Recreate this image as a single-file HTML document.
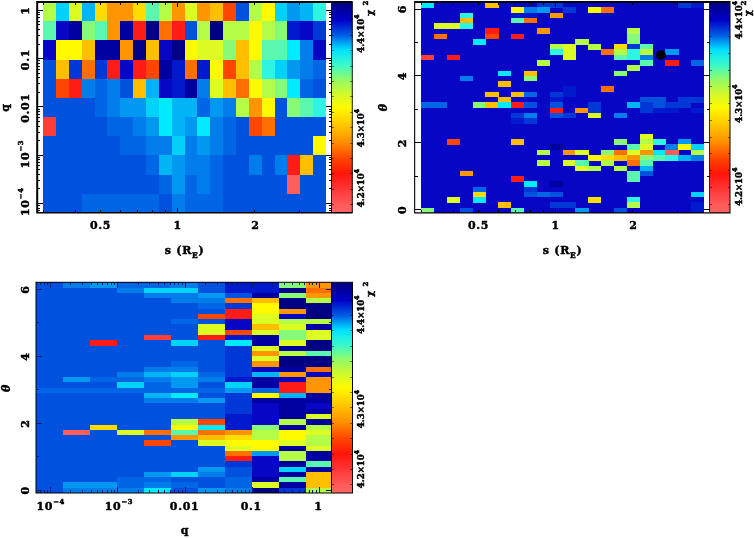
<!DOCTYPE html>
<html><head><meta charset="utf-8"><title>chi2 maps</title>
<style>html,body{margin:0;padding:0;background:#fff}svg{display:block}
text{font-family:"DejaVu Serif","Liberation Serif",serif;font-weight:bold;fill:#000;letter-spacing:0.7px;stroke:#000;stroke-width:0.45px}line{shape-rendering:crispEdges}</style></head>
<body><svg width="754" height="538" viewBox="0 0 754 538">
<defs><linearGradient id="cb" x1="0" y1="0" x2="0" y2="1"><stop offset="0.000" stop-color="#000080"/><stop offset="0.085" stop-color="#0000c8"/><stop offset="0.156" stop-color="#005ae4"/><stop offset="0.227" stop-color="#00e1ff"/><stop offset="0.300" stop-color="#3cfac8"/><stop offset="0.370" stop-color="#96fa64"/><stop offset="0.443" stop-color="#d7fa28"/><stop offset="0.500" stop-color="#fffa00"/><stop offset="0.595" stop-color="#ffbe00"/><stop offset="0.668" stop-color="#ff8c00"/><stop offset="0.741" stop-color="#ff4600"/><stop offset="0.815" stop-color="#ff140a"/><stop offset="0.888" stop-color="#ff3737"/><stop offset="0.960" stop-color="#ff5a5a"/><stop offset="1.000" stop-color="#ff6464"/></linearGradient><clipPath id="c3"><rect x="36" y="282" width="295.5" height="211"/></clipPath></defs>
<rect x="0" y="0" width="754" height="538" fill="#fff"/>
<rect x="36.00" y="1.00" width="317.00" height="212.50" fill="#fff"/>
<g shape-rendering="crispEdges">
<rect x="43.20" y="2.00" width="13.15" height="19.48" fill="#b4fc46"/>
<rect x="56.05" y="2.00" width="13.15" height="19.48" fill="#00d2fc"/>
<rect x="68.90" y="2.00" width="13.15" height="19.48" fill="#dcfc23"/>
<rect x="81.75" y="2.00" width="13.15" height="19.48" fill="#00b4f6"/>
<rect x="94.60" y="2.00" width="13.15" height="19.48" fill="#ffdc00"/>
<rect x="107.45" y="2.00" width="26.00" height="19.48" fill="#ff9600"/>
<rect x="133.15" y="2.00" width="13.15" height="19.48" fill="#ffdc00"/>
<rect x="146.00" y="2.00" width="13.15" height="19.48" fill="#5af8af"/>
<rect x="158.85" y="2.00" width="13.15" height="19.48" fill="#b4fc46"/>
<rect x="171.70" y="2.00" width="13.15" height="19.48" fill="#ff9600"/>
<rect x="184.55" y="2.00" width="13.15" height="19.48" fill="#dcfc23"/>
<rect x="197.40" y="2.00" width="13.15" height="19.48" fill="#ff9600"/>
<rect x="210.25" y="2.00" width="13.15" height="19.48" fill="#ffbe00"/>
<rect x="223.10" y="2.00" width="13.15" height="19.48" fill="#ff4600"/>
<rect x="235.95" y="2.00" width="13.15" height="19.48" fill="#0052de"/>
<rect x="248.80" y="2.00" width="13.15" height="19.48" fill="#b4fc46"/>
<rect x="261.65" y="2.00" width="13.15" height="19.48" fill="#fffa00"/>
<rect x="274.50" y="2.00" width="13.15" height="19.48" fill="#00d2fc"/>
<rect x="287.35" y="2.00" width="13.15" height="19.48" fill="#0098f0"/>
<rect x="300.20" y="2.00" width="13.15" height="19.48" fill="#00b4f6"/>
<rect x="313.05" y="2.00" width="13.15" height="19.48" fill="#2df5e1"/>
<rect x="43.20" y="21.18" width="13.15" height="19.48" fill="#5af8af"/>
<rect x="56.05" y="21.18" width="13.15" height="19.48" fill="#0606c4"/>
<rect x="68.90" y="21.18" width="13.15" height="19.48" fill="#0000a0"/>
<rect x="81.75" y="21.18" width="13.15" height="19.48" fill="#87fa78"/>
<rect x="94.60" y="21.18" width="13.15" height="19.48" fill="#5af8af"/>
<rect x="107.45" y="21.18" width="13.15" height="19.48" fill="#ff9600"/>
<rect x="120.30" y="21.18" width="13.15" height="19.48" fill="#0000a0"/>
<rect x="133.15" y="21.18" width="13.15" height="19.48" fill="#ff1c16"/>
<rect x="146.00" y="21.18" width="13.15" height="19.48" fill="#000082"/>
<rect x="158.85" y="21.18" width="13.15" height="19.48" fill="#ff7000"/>
<rect x="171.70" y="21.18" width="13.15" height="19.48" fill="#ff1c16"/>
<rect x="184.55" y="21.18" width="13.15" height="19.48" fill="#0052de"/>
<rect x="197.40" y="21.18" width="13.15" height="19.48" fill="#b4fc46"/>
<rect x="210.25" y="21.18" width="13.15" height="19.48" fill="#000082"/>
<rect x="223.10" y="21.18" width="26.00" height="19.48" fill="#b4fc46"/>
<rect x="248.80" y="21.18" width="13.15" height="19.48" fill="#fffa00"/>
<rect x="261.65" y="21.18" width="13.15" height="19.48" fill="#b4fc46"/>
<rect x="274.50" y="21.18" width="13.15" height="19.48" fill="#87fa78"/>
<rect x="287.35" y="21.18" width="13.15" height="19.48" fill="#0019cd"/>
<rect x="300.20" y="21.18" width="13.15" height="19.48" fill="#0606c4"/>
<rect x="313.05" y="21.18" width="13.15" height="19.48" fill="#0037d7"/>
<rect x="43.20" y="40.36" width="13.15" height="19.48" fill="#0606c4"/>
<rect x="56.05" y="40.36" width="26.00" height="19.48" fill="#fffa00"/>
<rect x="81.75" y="40.36" width="13.15" height="19.48" fill="#ffbe00"/>
<rect x="94.60" y="40.36" width="26.00" height="19.48" fill="#0000a0"/>
<rect x="120.30" y="40.36" width="13.15" height="19.48" fill="#ff9600"/>
<rect x="133.15" y="40.36" width="13.15" height="19.48" fill="#000082"/>
<rect x="146.00" y="40.36" width="13.15" height="19.48" fill="#ffbe00"/>
<rect x="158.85" y="40.36" width="13.15" height="19.48" fill="#0606c4"/>
<rect x="171.70" y="40.36" width="13.15" height="19.48" fill="#000082"/>
<rect x="184.55" y="40.36" width="13.15" height="19.48" fill="#fffa00"/>
<rect x="197.40" y="40.36" width="26.00" height="19.48" fill="#dcfc23"/>
<rect x="223.10" y="40.36" width="13.15" height="19.48" fill="#87fa78"/>
<rect x="235.95" y="40.36" width="13.15" height="19.48" fill="#ffbe00"/>
<rect x="248.80" y="40.36" width="13.15" height="19.48" fill="#fffa00"/>
<rect x="261.65" y="40.36" width="26.00" height="19.48" fill="#5af8af"/>
<rect x="287.35" y="40.36" width="13.15" height="19.48" fill="#00ebff"/>
<rect x="300.20" y="40.36" width="13.15" height="19.48" fill="#007deb"/>
<rect x="313.05" y="40.36" width="13.15" height="19.48" fill="#0606c4"/>
<rect x="43.20" y="59.55" width="13.15" height="19.48" fill="#0052de"/>
<rect x="56.05" y="59.55" width="13.15" height="19.48" fill="#ffbe00"/>
<rect x="68.90" y="59.55" width="13.15" height="19.48" fill="#0037d7"/>
<rect x="81.75" y="59.55" width="13.15" height="19.48" fill="#ff7000"/>
<rect x="94.60" y="59.55" width="13.15" height="19.48" fill="#0037d7"/>
<rect x="107.45" y="59.55" width="13.15" height="19.48" fill="#ff1c16"/>
<rect x="120.30" y="59.55" width="13.15" height="19.48" fill="#0606c4"/>
<rect x="133.15" y="59.55" width="13.15" height="19.48" fill="#ff1c16"/>
<rect x="146.00" y="59.55" width="13.15" height="19.48" fill="#ff4600"/>
<rect x="158.85" y="59.55" width="13.15" height="19.48" fill="#0000a0"/>
<rect x="171.70" y="59.55" width="13.15" height="19.48" fill="#0019cd"/>
<rect x="184.55" y="59.55" width="13.15" height="19.48" fill="#ff7000"/>
<rect x="197.40" y="59.55" width="13.15" height="19.48" fill="#0019cd"/>
<rect x="210.25" y="59.55" width="13.15" height="19.48" fill="#fffa00"/>
<rect x="223.10" y="59.55" width="13.15" height="19.48" fill="#ff4600"/>
<rect x="235.95" y="59.55" width="13.15" height="19.48" fill="#ffbe00"/>
<rect x="248.80" y="59.55" width="13.15" height="19.48" fill="#b4fc46"/>
<rect x="261.65" y="59.55" width="13.15" height="19.48" fill="#2df5e1"/>
<rect x="274.50" y="59.55" width="13.15" height="19.48" fill="#00d2fc"/>
<rect x="287.35" y="59.55" width="13.15" height="19.48" fill="#0098f0"/>
<rect x="300.20" y="59.55" width="13.15" height="19.48" fill="#007deb"/>
<rect x="313.05" y="59.55" width="13.15" height="19.48" fill="#0066e6"/>
<rect x="43.20" y="78.73" width="13.15" height="19.48" fill="#0052de"/>
<rect x="56.05" y="78.73" width="13.15" height="19.48" fill="#ff4600"/>
<rect x="68.90" y="78.73" width="13.15" height="19.48" fill="#ff1c16"/>
<rect x="81.75" y="78.73" width="13.15" height="19.48" fill="#007deb"/>
<rect x="94.60" y="78.73" width="13.15" height="19.48" fill="#0066e6"/>
<rect x="107.45" y="78.73" width="13.15" height="19.48" fill="#007deb"/>
<rect x="120.30" y="78.73" width="13.15" height="19.48" fill="#0052de"/>
<rect x="133.15" y="78.73" width="13.15" height="19.48" fill="#ffbe00"/>
<rect x="146.00" y="78.73" width="13.15" height="19.48" fill="#00b4f6"/>
<rect x="158.85" y="78.73" width="13.15" height="19.48" fill="#0606c4"/>
<rect x="171.70" y="78.73" width="13.15" height="19.48" fill="#0019cd"/>
<rect x="184.55" y="78.73" width="13.15" height="19.48" fill="#0000a0"/>
<rect x="197.40" y="78.73" width="13.15" height="19.48" fill="#007deb"/>
<rect x="210.25" y="78.73" width="13.15" height="19.48" fill="#dcfc23"/>
<rect x="223.10" y="78.73" width="13.15" height="19.48" fill="#ffbe00"/>
<rect x="235.95" y="78.73" width="13.15" height="19.48" fill="#ff7000"/>
<rect x="248.80" y="78.73" width="13.15" height="19.48" fill="#fffa00"/>
<rect x="261.65" y="78.73" width="13.15" height="19.48" fill="#b4fc46"/>
<rect x="274.50" y="78.73" width="13.15" height="19.48" fill="#87fa78"/>
<rect x="287.35" y="78.73" width="13.15" height="19.48" fill="#00ebff"/>
<rect x="300.20" y="78.73" width="13.15" height="19.48" fill="#0066e6"/>
<rect x="313.05" y="78.73" width="13.15" height="19.48" fill="#0052de"/>
<rect x="43.20" y="97.91" width="51.70" height="19.48" fill="#0052de"/>
<rect x="94.60" y="97.91" width="13.15" height="19.48" fill="#0066e6"/>
<rect x="107.45" y="97.91" width="13.15" height="19.48" fill="#007deb"/>
<rect x="120.30" y="97.91" width="26.00" height="19.48" fill="#0098f0"/>
<rect x="146.00" y="97.91" width="13.15" height="19.48" fill="#00d2fc"/>
<rect x="158.85" y="97.91" width="13.15" height="19.48" fill="#00ebff"/>
<rect x="171.70" y="97.91" width="26.00" height="19.48" fill="#00b4f6"/>
<rect x="197.40" y="97.91" width="13.15" height="19.48" fill="#0066e6"/>
<rect x="210.25" y="97.91" width="13.15" height="19.48" fill="#0098f0"/>
<rect x="223.10" y="97.91" width="13.15" height="19.48" fill="#007deb"/>
<rect x="235.95" y="97.91" width="13.15" height="19.48" fill="#b4fc46"/>
<rect x="248.80" y="97.91" width="13.15" height="19.48" fill="#ff9600"/>
<rect x="261.65" y="97.91" width="13.15" height="19.48" fill="#fffa00"/>
<rect x="274.50" y="97.91" width="13.15" height="19.48" fill="#0052de"/>
<rect x="287.35" y="97.91" width="13.15" height="19.48" fill="#87fa78"/>
<rect x="300.20" y="97.91" width="13.15" height="19.48" fill="#5af8af"/>
<rect x="313.05" y="97.91" width="13.15" height="19.48" fill="#2df5e1"/>
<rect x="43.20" y="117.09" width="13.15" height="19.48" fill="#ff3e3a"/>
<rect x="56.05" y="117.09" width="51.70" height="19.48" fill="#0052de"/>
<rect x="107.45" y="117.09" width="26.00" height="19.48" fill="#0066e6"/>
<rect x="133.15" y="117.09" width="13.15" height="19.48" fill="#007deb"/>
<rect x="146.00" y="117.09" width="13.15" height="19.48" fill="#0098f0"/>
<rect x="158.85" y="117.09" width="13.15" height="19.48" fill="#00ebff"/>
<rect x="171.70" y="117.09" width="13.15" height="19.48" fill="#00b4f6"/>
<rect x="184.55" y="117.09" width="13.15" height="19.48" fill="#0098f0"/>
<rect x="197.40" y="117.09" width="13.15" height="19.48" fill="#00ebff"/>
<rect x="210.25" y="117.09" width="13.15" height="19.48" fill="#007deb"/>
<rect x="223.10" y="117.09" width="13.15" height="19.48" fill="#0066e6"/>
<rect x="235.95" y="117.09" width="13.15" height="19.48" fill="#0052de"/>
<rect x="248.80" y="117.09" width="13.15" height="19.48" fill="#ff4600"/>
<rect x="261.65" y="117.09" width="13.15" height="19.48" fill="#ff7000"/>
<rect x="274.50" y="117.09" width="51.70" height="19.48" fill="#0052de"/>
<rect x="43.20" y="136.27" width="77.40" height="19.48" fill="#0052de"/>
<rect x="120.30" y="136.27" width="26.00" height="19.48" fill="#0066e6"/>
<rect x="146.00" y="136.27" width="26.00" height="19.48" fill="#007deb"/>
<rect x="171.70" y="136.27" width="13.15" height="19.48" fill="#00d2fc"/>
<rect x="184.55" y="136.27" width="13.15" height="19.48" fill="#007deb"/>
<rect x="197.40" y="136.27" width="13.15" height="19.48" fill="#0098f0"/>
<rect x="210.25" y="136.27" width="13.15" height="19.48" fill="#007deb"/>
<rect x="223.10" y="136.27" width="13.15" height="19.48" fill="#0066e6"/>
<rect x="235.95" y="136.27" width="77.40" height="19.48" fill="#0052de"/>
<rect x="313.05" y="136.27" width="13.15" height="19.48" fill="#fffa00"/>
<rect x="43.20" y="155.45" width="103.10" height="19.48" fill="#0052de"/>
<rect x="146.00" y="155.45" width="13.15" height="19.48" fill="#0066e6"/>
<rect x="158.85" y="155.45" width="13.15" height="19.48" fill="#00b4f6"/>
<rect x="171.70" y="155.45" width="13.15" height="19.48" fill="#0098f0"/>
<rect x="184.55" y="155.45" width="26.00" height="19.48" fill="#007deb"/>
<rect x="210.25" y="155.45" width="13.15" height="19.48" fill="#0066e6"/>
<rect x="223.10" y="155.45" width="26.00" height="19.48" fill="#0052de"/>
<rect x="248.80" y="155.45" width="13.15" height="19.48" fill="#007deb"/>
<rect x="261.65" y="155.45" width="13.15" height="19.48" fill="#0052de"/>
<rect x="274.50" y="155.45" width="13.15" height="19.48" fill="#007deb"/>
<rect x="287.35" y="155.45" width="13.15" height="19.48" fill="#ff1c16"/>
<rect x="300.20" y="155.45" width="13.15" height="19.48" fill="#ffbe00"/>
<rect x="313.05" y="155.45" width="13.15" height="19.48" fill="#0052de"/>
<rect x="43.20" y="174.64" width="115.95" height="19.48" fill="#0052de"/>
<rect x="158.85" y="174.64" width="13.15" height="19.48" fill="#0066e6"/>
<rect x="171.70" y="174.64" width="13.15" height="19.48" fill="#0098f0"/>
<rect x="184.55" y="174.64" width="13.15" height="19.48" fill="#0066e6"/>
<rect x="197.40" y="174.64" width="13.15" height="19.48" fill="#007deb"/>
<rect x="210.25" y="174.64" width="13.15" height="19.48" fill="#0066e6"/>
<rect x="223.10" y="174.64" width="64.55" height="19.48" fill="#0052de"/>
<rect x="287.35" y="174.64" width="13.15" height="19.48" fill="#ff5c5c"/>
<rect x="300.20" y="174.64" width="26.00" height="19.48" fill="#0052de"/>
<rect x="43.20" y="193.82" width="38.85" height="19.48" fill="#0052de"/>
<rect x="81.75" y="193.82" width="77.40" height="19.48" fill="#0066e6"/>
<rect x="158.85" y="193.82" width="13.15" height="19.48" fill="#0052de"/>
<rect x="171.70" y="193.82" width="13.15" height="19.48" fill="#007deb"/>
<rect x="184.55" y="193.82" width="38.85" height="19.48" fill="#0066e6"/>
<rect x="223.10" y="193.82" width="103.10" height="19.48" fill="#0052de"/>
</g>
<rect x="332.00" y="2.00" width="20.50" height="211.00" fill="url(#cb)"/>
<line x1="332.00" y1="19.80" x2="334.20" y2="19.80" stroke="rgba(0,0,0,0.5)" stroke-width="1.00"/>
<line x1="350.30" y1="19.80" x2="352.50" y2="19.80" stroke="rgba(0,0,0,0.5)" stroke-width="1.00"/>
<line x1="332.00" y1="35.20" x2="334.20" y2="35.20" stroke="rgba(0,0,0,0.5)" stroke-width="1.00"/>
<line x1="350.30" y1="35.20" x2="352.50" y2="35.20" stroke="rgba(0,0,0,0.5)" stroke-width="1.00"/>
<line x1="332.00" y1="50.60" x2="334.20" y2="50.60" stroke="rgba(0,0,0,0.5)" stroke-width="1.00"/>
<line x1="350.30" y1="50.60" x2="352.50" y2="50.60" stroke="rgba(0,0,0,0.5)" stroke-width="1.00"/>
<line x1="332.00" y1="66.00" x2="334.20" y2="66.00" stroke="rgba(0,0,0,0.5)" stroke-width="1.00"/>
<line x1="350.30" y1="66.00" x2="352.50" y2="66.00" stroke="rgba(0,0,0,0.5)" stroke-width="1.00"/>
<line x1="332.00" y1="81.40" x2="334.20" y2="81.40" stroke="rgba(0,0,0,0.5)" stroke-width="1.00"/>
<line x1="350.30" y1="81.40" x2="352.50" y2="81.40" stroke="rgba(0,0,0,0.5)" stroke-width="1.00"/>
<line x1="332.00" y1="96.80" x2="334.20" y2="96.80" stroke="rgba(0,0,0,0.5)" stroke-width="1.00"/>
<line x1="350.30" y1="96.80" x2="352.50" y2="96.80" stroke="rgba(0,0,0,0.5)" stroke-width="1.00"/>
<line x1="332.00" y1="112.20" x2="334.20" y2="112.20" stroke="rgba(0,0,0,0.5)" stroke-width="1.00"/>
<line x1="350.30" y1="112.20" x2="352.50" y2="112.20" stroke="rgba(0,0,0,0.5)" stroke-width="1.00"/>
<line x1="332.00" y1="127.60" x2="334.20" y2="127.60" stroke="rgba(0,0,0,0.5)" stroke-width="1.00"/>
<line x1="350.30" y1="127.60" x2="352.50" y2="127.60" stroke="rgba(0,0,0,0.5)" stroke-width="1.00"/>
<line x1="332.00" y1="143.00" x2="334.20" y2="143.00" stroke="rgba(0,0,0,0.5)" stroke-width="1.00"/>
<line x1="350.30" y1="143.00" x2="352.50" y2="143.00" stroke="rgba(0,0,0,0.5)" stroke-width="1.00"/>
<line x1="332.00" y1="158.40" x2="334.20" y2="158.40" stroke="rgba(0,0,0,0.5)" stroke-width="1.00"/>
<line x1="350.30" y1="158.40" x2="352.50" y2="158.40" stroke="rgba(0,0,0,0.5)" stroke-width="1.00"/>
<line x1="332.00" y1="173.80" x2="334.20" y2="173.80" stroke="rgba(0,0,0,0.5)" stroke-width="1.00"/>
<line x1="350.30" y1="173.80" x2="352.50" y2="173.80" stroke="rgba(0,0,0,0.5)" stroke-width="1.00"/>
<line x1="332.00" y1="189.20" x2="334.20" y2="189.20" stroke="rgba(0,0,0,0.5)" stroke-width="1.00"/>
<line x1="350.30" y1="189.20" x2="352.50" y2="189.20" stroke="rgba(0,0,0,0.5)" stroke-width="1.00"/>
<line x1="332.00" y1="204.60" x2="334.20" y2="204.60" stroke="rgba(0,0,0,0.5)" stroke-width="1.00"/>
<line x1="350.30" y1="204.60" x2="352.50" y2="204.60" stroke="rgba(0,0,0,0.5)" stroke-width="1.00"/>
<line x1="37.50" y1="210.98" x2="39.80" y2="210.98" stroke="#000" stroke-width="1.00"/>
<line x1="37.50" y1="208.18" x2="39.80" y2="208.18" stroke="#000" stroke-width="1.00"/>
<line x1="37.50" y1="205.71" x2="39.80" y2="205.71" stroke="#000" stroke-width="1.00"/>
<line x1="37.50" y1="203.50" x2="43.00" y2="203.50" stroke="#000" stroke-width="1.00"/>
<line x1="37.50" y1="188.96" x2="39.80" y2="188.96" stroke="#000" stroke-width="1.00"/>
<line x1="37.50" y1="180.46" x2="39.80" y2="180.46" stroke="#000" stroke-width="1.00"/>
<line x1="37.50" y1="174.42" x2="39.80" y2="174.42" stroke="#000" stroke-width="1.00"/>
<line x1="37.50" y1="169.74" x2="39.80" y2="169.74" stroke="#000" stroke-width="1.00"/>
<line x1="37.50" y1="165.92" x2="39.80" y2="165.92" stroke="#000" stroke-width="1.00"/>
<line x1="37.50" y1="162.68" x2="39.80" y2="162.68" stroke="#000" stroke-width="1.00"/>
<line x1="37.50" y1="159.88" x2="39.80" y2="159.88" stroke="#000" stroke-width="1.00"/>
<line x1="37.50" y1="157.41" x2="39.80" y2="157.41" stroke="#000" stroke-width="1.00"/>
<line x1="37.50" y1="155.20" x2="43.00" y2="155.20" stroke="#000" stroke-width="1.00"/>
<line x1="37.50" y1="140.66" x2="39.80" y2="140.66" stroke="#000" stroke-width="1.00"/>
<line x1="37.50" y1="132.16" x2="39.80" y2="132.16" stroke="#000" stroke-width="1.00"/>
<line x1="37.50" y1="126.12" x2="39.80" y2="126.12" stroke="#000" stroke-width="1.00"/>
<line x1="37.50" y1="121.44" x2="39.80" y2="121.44" stroke="#000" stroke-width="1.00"/>
<line x1="37.50" y1="117.62" x2="39.80" y2="117.62" stroke="#000" stroke-width="1.00"/>
<line x1="37.50" y1="114.38" x2="39.80" y2="114.38" stroke="#000" stroke-width="1.00"/>
<line x1="37.50" y1="111.58" x2="39.80" y2="111.58" stroke="#000" stroke-width="1.00"/>
<line x1="37.50" y1="109.11" x2="39.80" y2="109.11" stroke="#000" stroke-width="1.00"/>
<line x1="37.50" y1="106.90" x2="43.00" y2="106.90" stroke="#000" stroke-width="1.00"/>
<line x1="37.50" y1="92.36" x2="39.80" y2="92.36" stroke="#000" stroke-width="1.00"/>
<line x1="37.50" y1="83.86" x2="39.80" y2="83.86" stroke="#000" stroke-width="1.00"/>
<line x1="37.50" y1="77.82" x2="39.80" y2="77.82" stroke="#000" stroke-width="1.00"/>
<line x1="37.50" y1="73.14" x2="39.80" y2="73.14" stroke="#000" stroke-width="1.00"/>
<line x1="37.50" y1="69.32" x2="39.80" y2="69.32" stroke="#000" stroke-width="1.00"/>
<line x1="37.50" y1="66.08" x2="39.80" y2="66.08" stroke="#000" stroke-width="1.00"/>
<line x1="37.50" y1="63.28" x2="39.80" y2="63.28" stroke="#000" stroke-width="1.00"/>
<line x1="37.50" y1="60.81" x2="39.80" y2="60.81" stroke="#000" stroke-width="1.00"/>
<line x1="37.50" y1="58.60" x2="43.00" y2="58.60" stroke="#000" stroke-width="1.00"/>
<line x1="37.50" y1="44.06" x2="39.80" y2="44.06" stroke="#000" stroke-width="1.00"/>
<line x1="37.50" y1="35.56" x2="39.80" y2="35.56" stroke="#000" stroke-width="1.00"/>
<line x1="37.50" y1="29.52" x2="39.80" y2="29.52" stroke="#000" stroke-width="1.00"/>
<line x1="37.50" y1="24.84" x2="39.80" y2="24.84" stroke="#000" stroke-width="1.00"/>
<line x1="37.50" y1="21.02" x2="39.80" y2="21.02" stroke="#000" stroke-width="1.00"/>
<line x1="37.50" y1="17.78" x2="39.80" y2="17.78" stroke="#000" stroke-width="1.00"/>
<line x1="37.50" y1="14.98" x2="39.80" y2="14.98" stroke="#000" stroke-width="1.00"/>
<line x1="37.50" y1="12.51" x2="39.80" y2="12.51" stroke="#000" stroke-width="1.00"/>
<line x1="37.50" y1="10.30" x2="43.00" y2="10.30" stroke="#000" stroke-width="1.00"/>
<line x1="329.30" y1="210.98" x2="331.60" y2="210.98" stroke="#000" stroke-width="1.00"/>
<line x1="329.30" y1="208.18" x2="331.60" y2="208.18" stroke="#000" stroke-width="1.00"/>
<line x1="329.30" y1="205.71" x2="331.60" y2="205.71" stroke="#000" stroke-width="1.00"/>
<line x1="326.10" y1="203.50" x2="331.60" y2="203.50" stroke="#000" stroke-width="1.00"/>
<line x1="329.30" y1="188.96" x2="331.60" y2="188.96" stroke="#000" stroke-width="1.00"/>
<line x1="329.30" y1="180.46" x2="331.60" y2="180.46" stroke="#000" stroke-width="1.00"/>
<line x1="329.30" y1="174.42" x2="331.60" y2="174.42" stroke="#000" stroke-width="1.00"/>
<line x1="329.30" y1="169.74" x2="331.60" y2="169.74" stroke="#000" stroke-width="1.00"/>
<line x1="329.30" y1="165.92" x2="331.60" y2="165.92" stroke="#000" stroke-width="1.00"/>
<line x1="329.30" y1="162.68" x2="331.60" y2="162.68" stroke="#000" stroke-width="1.00"/>
<line x1="329.30" y1="159.88" x2="331.60" y2="159.88" stroke="#000" stroke-width="1.00"/>
<line x1="329.30" y1="157.41" x2="331.60" y2="157.41" stroke="#000" stroke-width="1.00"/>
<line x1="326.10" y1="155.20" x2="331.60" y2="155.20" stroke="#000" stroke-width="1.00"/>
<line x1="329.30" y1="140.66" x2="331.60" y2="140.66" stroke="#000" stroke-width="1.00"/>
<line x1="329.30" y1="132.16" x2="331.60" y2="132.16" stroke="#000" stroke-width="1.00"/>
<line x1="329.30" y1="126.12" x2="331.60" y2="126.12" stroke="#000" stroke-width="1.00"/>
<line x1="329.30" y1="121.44" x2="331.60" y2="121.44" stroke="#000" stroke-width="1.00"/>
<line x1="329.30" y1="117.62" x2="331.60" y2="117.62" stroke="#000" stroke-width="1.00"/>
<line x1="329.30" y1="114.38" x2="331.60" y2="114.38" stroke="#000" stroke-width="1.00"/>
<line x1="329.30" y1="111.58" x2="331.60" y2="111.58" stroke="#000" stroke-width="1.00"/>
<line x1="329.30" y1="109.11" x2="331.60" y2="109.11" stroke="#000" stroke-width="1.00"/>
<line x1="326.10" y1="106.90" x2="331.60" y2="106.90" stroke="#000" stroke-width="1.00"/>
<line x1="329.30" y1="92.36" x2="331.60" y2="92.36" stroke="#000" stroke-width="1.00"/>
<line x1="329.30" y1="83.86" x2="331.60" y2="83.86" stroke="#000" stroke-width="1.00"/>
<line x1="329.30" y1="77.82" x2="331.60" y2="77.82" stroke="#000" stroke-width="1.00"/>
<line x1="329.30" y1="73.14" x2="331.60" y2="73.14" stroke="#000" stroke-width="1.00"/>
<line x1="329.30" y1="69.32" x2="331.60" y2="69.32" stroke="#000" stroke-width="1.00"/>
<line x1="329.30" y1="66.08" x2="331.60" y2="66.08" stroke="#000" stroke-width="1.00"/>
<line x1="329.30" y1="63.28" x2="331.60" y2="63.28" stroke="#000" stroke-width="1.00"/>
<line x1="329.30" y1="60.81" x2="331.60" y2="60.81" stroke="#000" stroke-width="1.00"/>
<line x1="326.10" y1="58.60" x2="331.60" y2="58.60" stroke="#000" stroke-width="1.00"/>
<line x1="329.30" y1="44.06" x2="331.60" y2="44.06" stroke="#000" stroke-width="1.00"/>
<line x1="329.30" y1="35.56" x2="331.60" y2="35.56" stroke="#000" stroke-width="1.00"/>
<line x1="329.30" y1="29.52" x2="331.60" y2="29.52" stroke="#000" stroke-width="1.00"/>
<line x1="329.30" y1="24.84" x2="331.60" y2="24.84" stroke="#000" stroke-width="1.00"/>
<line x1="329.30" y1="21.02" x2="331.60" y2="21.02" stroke="#000" stroke-width="1.00"/>
<line x1="329.30" y1="17.78" x2="331.60" y2="17.78" stroke="#000" stroke-width="1.00"/>
<line x1="329.30" y1="14.98" x2="331.60" y2="14.98" stroke="#000" stroke-width="1.00"/>
<line x1="329.30" y1="12.51" x2="331.60" y2="12.51" stroke="#000" stroke-width="1.00"/>
<line x1="326.10" y1="10.30" x2="331.60" y2="10.30" stroke="#000" stroke-width="1.00"/>
<line x1="43.38" y1="212.00" x2="43.38" y2="209.70" stroke="#000" stroke-width="1.00"/>
<line x1="43.38" y1="2.50" x2="43.38" y2="4.80" stroke="#000" stroke-width="1.00"/>
<line x1="75.38" y1="212.00" x2="75.38" y2="209.70" stroke="#000" stroke-width="1.00"/>
<line x1="75.38" y1="2.50" x2="75.38" y2="4.80" stroke="#000" stroke-width="1.00"/>
<line x1="100.20" y1="212.00" x2="100.20" y2="209.70" stroke="#000" stroke-width="1.00"/>
<line x1="100.20" y1="2.50" x2="100.20" y2="4.80" stroke="#000" stroke-width="1.00"/>
<line x1="120.48" y1="212.00" x2="120.48" y2="209.70" stroke="#000" stroke-width="1.00"/>
<line x1="120.48" y1="2.50" x2="120.48" y2="4.80" stroke="#000" stroke-width="1.00"/>
<line x1="137.63" y1="212.00" x2="137.63" y2="209.70" stroke="#000" stroke-width="1.00"/>
<line x1="137.63" y1="2.50" x2="137.63" y2="4.80" stroke="#000" stroke-width="1.00"/>
<line x1="152.48" y1="212.00" x2="152.48" y2="209.70" stroke="#000" stroke-width="1.00"/>
<line x1="152.48" y1="2.50" x2="152.48" y2="4.80" stroke="#000" stroke-width="1.00"/>
<line x1="165.58" y1="212.00" x2="165.58" y2="209.70" stroke="#000" stroke-width="1.00"/>
<line x1="165.58" y1="2.50" x2="165.58" y2="4.80" stroke="#000" stroke-width="1.00"/>
<line x1="177.30" y1="212.00" x2="177.30" y2="207.50" stroke="#000" stroke-width="1.00"/>
<line x1="177.30" y1="2.50" x2="177.30" y2="7.00" stroke="#000" stroke-width="1.00"/>
<line x1="254.40" y1="212.00" x2="254.40" y2="209.70" stroke="#000" stroke-width="1.00"/>
<line x1="254.40" y1="2.50" x2="254.40" y2="4.80" stroke="#000" stroke-width="1.00"/>
<line x1="299.50" y1="212.00" x2="299.50" y2="209.70" stroke="#000" stroke-width="1.00"/>
<line x1="299.50" y1="2.50" x2="299.50" y2="4.80" stroke="#000" stroke-width="1.00"/>
<path d="M36.2 1H352.7V213.6H36.2Z M38.2 3H351.8V212.1H38.2Z" fill="#000" fill-rule="evenodd"/>
<line x1="331.70" y1="2.00" x2="331.70" y2="212.00" stroke="#000" stroke-width="0.90"/>
<text x="100.50" y="228.50" font-size="11.00" text-anchor="middle">0.5</text>
<text x="177.60" y="228.50" font-size="11.00" text-anchor="middle">1</text>
<text x="255.50" y="228.50" font-size="11.00" text-anchor="middle">2</text>
<text x="184.60" y="253.50" font-size="11.00" text-anchor="middle">s (R<tspan dy="4" font-size="7.5">E</tspan><tspan dy="-4" font-size="11">)</tspan></text>
<text x="29.00" y="10.60" font-size="11.00" text-anchor="middle" transform="rotate(-90 29.00 10.60)">1</text>
<text x="29.00" y="59.50" font-size="11.00" text-anchor="middle" transform="rotate(-90 29.00 59.50)">0.1</text>
<text x="29.00" y="108.00" font-size="11.00" text-anchor="middle" transform="rotate(-90 29.00 108.00)">0.01</text>
<text x="29.00" y="154.00" font-size="11.00" text-anchor="middle" transform="rotate(-90 29.00 154.00)">10<tspan dy="-5.6" font-size="6.8">−3</tspan></text>
<text x="29.00" y="201.70" font-size="11.00" text-anchor="middle" transform="rotate(-90 29.00 201.70)">10<tspan dy="-5.6" font-size="6.8">−4</tspan></text>
<text x="8.50" y="107.50" font-size="11.00" text-anchor="middle" transform="rotate(-90 8.50 107.50)">q</text>
<text x="364.00" y="33.50" font-size="8.50" text-anchor="middle" transform="rotate(-90 364.00 33.50)" style="letter-spacing:0">4.4×10<tspan dy="-4.8" font-size="6.5">4</tspan></text>
<text x="364.00" y="128.00" font-size="8.50" text-anchor="middle" transform="rotate(-90 364.00 128.00)" style="letter-spacing:0">4.3×10<tspan dy="-4.8" font-size="6.5">4</tspan></text>
<text x="364.00" y="188.00" font-size="8.50" text-anchor="middle" transform="rotate(-90 364.00 188.00)" style="letter-spacing:0">4.2×10<tspan dy="-4.8" font-size="6.5">4</tspan></text>
<text x="373.10" y="15.80" font-size="9.00" text-anchor="start" transform="rotate(-90 373.10 15.80)">χ</text>
<text x="368.40" y="5.40" font-size="6.90" text-anchor="start" transform="rotate(-90 368.40 5.40)">2</text>
<rect x="414.00" y="1.00" width="317.00" height="212.50" fill="#fff"/>
<g shape-rendering="crispEdges">
<rect x="421.20" y="2.00" width="282.70" height="211.00" fill="#0606c4"/>
<rect x="421.20" y="2.00" width="13.15" height="5.58" fill="#00ebff"/>
<rect x="485.45" y="2.00" width="13.15" height="5.58" fill="#ffbe00"/>
<rect x="536.85" y="2.00" width="13.15" height="5.58" fill="#0037d7"/>
<rect x="549.70" y="2.00" width="13.15" height="5.58" fill="#0037d7"/>
<rect x="678.20" y="2.00" width="13.15" height="5.58" fill="#0037d7"/>
<rect x="691.05" y="2.00" width="13.15" height="5.58" fill="#0019cd"/>
<rect x="511.15" y="7.28" width="13.15" height="5.58" fill="#fffa00"/>
<rect x="524.00" y="7.28" width="13.15" height="5.58" fill="#007deb"/>
<rect x="536.85" y="7.28" width="13.15" height="5.58" fill="#0098f0"/>
<rect x="562.55" y="7.28" width="13.15" height="5.58" fill="#0037d7"/>
<rect x="588.25" y="7.28" width="13.15" height="5.58" fill="#fffa00"/>
<rect x="601.10" y="7.28" width="13.15" height="5.58" fill="#ff7000"/>
<rect x="459.75" y="12.55" width="13.15" height="5.58" fill="#2df5e1"/>
<rect x="549.70" y="12.55" width="13.15" height="5.58" fill="#ff9600"/>
<rect x="511.15" y="12.55" width="13.15" height="5.58" fill="#0019cd"/>
<rect x="524.00" y="12.55" width="13.15" height="5.58" fill="#0019cd"/>
<rect x="459.75" y="17.83" width="13.15" height="5.58" fill="#ffbe00"/>
<rect x="511.15" y="17.83" width="13.15" height="5.58" fill="#5af8af"/>
<rect x="524.00" y="17.83" width="13.15" height="5.58" fill="#ff7000"/>
<rect x="434.05" y="23.10" width="13.15" height="5.58" fill="#dcfc23"/>
<rect x="446.90" y="23.10" width="13.15" height="5.58" fill="#dcfc23"/>
<rect x="459.75" y="23.10" width="13.15" height="5.58" fill="#2df5e1"/>
<rect x="485.45" y="28.38" width="13.15" height="5.58" fill="#ff1c16"/>
<rect x="536.85" y="28.38" width="13.15" height="5.58" fill="#ff9600"/>
<rect x="626.80" y="28.38" width="13.15" height="5.58" fill="#b4fc46"/>
<rect x="434.05" y="33.65" width="13.15" height="5.58" fill="#ff7000"/>
<rect x="485.45" y="33.65" width="13.15" height="5.58" fill="#ff4600"/>
<rect x="511.15" y="33.65" width="13.15" height="5.58" fill="#ff1c16"/>
<rect x="626.80" y="33.65" width="13.15" height="5.58" fill="#87fa78"/>
<rect x="472.60" y="38.93" width="13.15" height="5.58" fill="#00ebff"/>
<rect x="575.40" y="38.93" width="13.15" height="5.58" fill="#b4fc46"/>
<rect x="626.80" y="38.93" width="13.15" height="5.58" fill="#87fa78"/>
<rect x="549.70" y="44.20" width="13.15" height="5.58" fill="#b4fc46"/>
<rect x="562.55" y="44.20" width="13.15" height="5.58" fill="#dcfc23"/>
<rect x="588.25" y="44.20" width="13.15" height="5.58" fill="#b4fc46"/>
<rect x="613.95" y="44.20" width="13.15" height="5.58" fill="#ffdc00"/>
<rect x="626.80" y="44.20" width="13.15" height="5.58" fill="#0037d7"/>
<rect x="639.65" y="44.20" width="13.15" height="5.58" fill="#5af8af"/>
<rect x="549.70" y="49.48" width="13.15" height="5.58" fill="#2df5e1"/>
<rect x="562.55" y="49.48" width="13.15" height="5.58" fill="#dcfc23"/>
<rect x="601.10" y="49.48" width="13.15" height="5.58" fill="#ff7000"/>
<rect x="613.95" y="49.48" width="13.15" height="5.58" fill="#b4fc46"/>
<rect x="626.80" y="49.48" width="13.15" height="5.58" fill="#2df5e1"/>
<rect x="639.65" y="49.48" width="13.15" height="5.58" fill="#b4fc46"/>
<rect x="665.35" y="49.48" width="13.15" height="5.58" fill="#0098f0"/>
<rect x="421.20" y="54.75" width="13.15" height="5.58" fill="#ff3e3a"/>
<rect x="446.90" y="54.75" width="13.15" height="5.58" fill="#ff1c16"/>
<rect x="562.55" y="54.75" width="13.15" height="5.58" fill="#dcfc23"/>
<rect x="613.95" y="54.75" width="13.15" height="5.58" fill="#5af8af"/>
<rect x="626.80" y="54.75" width="13.15" height="5.58" fill="#2df5e1"/>
<rect x="639.65" y="54.75" width="13.15" height="5.58" fill="#007deb"/>
<rect x="536.85" y="60.03" width="13.15" height="5.58" fill="#b4fc46"/>
<rect x="639.65" y="60.03" width="13.15" height="5.58" fill="#5af8af"/>
<rect x="665.35" y="60.03" width="13.15" height="5.58" fill="#ff1c16"/>
<rect x="691.05" y="60.03" width="13.15" height="5.58" fill="#0066e6"/>
<rect x="626.80" y="65.30" width="13.15" height="5.58" fill="#b4fc46"/>
<rect x="498.30" y="70.58" width="13.15" height="5.58" fill="#00ebff"/>
<rect x="524.00" y="70.58" width="13.15" height="5.58" fill="#ffbe00"/>
<rect x="613.95" y="70.58" width="13.15" height="5.58" fill="#87fa78"/>
<rect x="459.75" y="75.85" width="13.15" height="5.58" fill="#007deb"/>
<rect x="524.00" y="75.85" width="13.15" height="5.58" fill="#87fa78"/>
<rect x="498.30" y="81.12" width="13.15" height="5.58" fill="#ffbe00"/>
<rect x="562.55" y="86.40" width="13.15" height="5.58" fill="#0019cd"/>
<rect x="601.10" y="86.40" width="13.15" height="5.58" fill="#ff7000"/>
<rect x="485.45" y="91.68" width="13.15" height="5.58" fill="#ffbe00"/>
<rect x="511.15" y="91.68" width="13.15" height="5.58" fill="#ffbe00"/>
<rect x="524.00" y="91.68" width="13.15" height="5.58" fill="#0066e6"/>
<rect x="549.70" y="91.68" width="13.15" height="5.58" fill="#0037d7"/>
<rect x="562.55" y="91.68" width="13.15" height="5.58" fill="#0019cd"/>
<rect x="498.30" y="96.95" width="13.15" height="5.58" fill="#ffbe00"/>
<rect x="549.70" y="96.95" width="13.15" height="5.58" fill="#0019cd"/>
<rect x="639.65" y="96.95" width="13.15" height="5.58" fill="#0052de"/>
<rect x="652.50" y="96.95" width="13.15" height="5.58" fill="#0052de"/>
<rect x="678.20" y="96.95" width="13.15" height="5.58" fill="#0037d7"/>
<rect x="691.05" y="96.95" width="13.15" height="5.58" fill="#0037d7"/>
<rect x="421.20" y="102.23" width="13.15" height="5.58" fill="#0066e6"/>
<rect x="434.05" y="102.23" width="13.15" height="5.58" fill="#0066e6"/>
<rect x="472.60" y="102.23" width="13.15" height="5.58" fill="#87fa78"/>
<rect x="485.45" y="102.23" width="13.15" height="5.58" fill="#ffbe00"/>
<rect x="498.30" y="102.23" width="13.15" height="5.58" fill="#00ebff"/>
<rect x="511.15" y="102.23" width="13.15" height="5.58" fill="#ff1c16"/>
<rect x="524.00" y="102.23" width="13.15" height="5.58" fill="#0052de"/>
<rect x="549.70" y="102.23" width="13.15" height="5.58" fill="#0052de"/>
<rect x="588.25" y="102.23" width="13.15" height="5.58" fill="#0037d7"/>
<rect x="626.80" y="102.23" width="13.15" height="5.58" fill="#00b4f6"/>
<rect x="639.65" y="102.23" width="13.15" height="5.58" fill="#0037d7"/>
<rect x="652.50" y="102.23" width="13.15" height="5.58" fill="#0052de"/>
<rect x="665.35" y="102.23" width="13.15" height="5.58" fill="#0037d7"/>
<rect x="678.20" y="102.23" width="13.15" height="5.58" fill="#0037d7"/>
<rect x="549.70" y="107.50" width="13.15" height="5.58" fill="#ff1c16"/>
<rect x="575.40" y="107.50" width="13.15" height="5.58" fill="#ff9600"/>
<rect x="588.25" y="107.50" width="13.15" height="5.58" fill="#0037d7"/>
<rect x="639.65" y="107.50" width="13.15" height="5.58" fill="#0037d7"/>
<rect x="652.50" y="107.50" width="13.15" height="5.58" fill="#0019cd"/>
<rect x="665.35" y="107.50" width="13.15" height="5.58" fill="#0019cd"/>
<rect x="691.05" y="107.50" width="13.15" height="5.58" fill="#0019cd"/>
<rect x="511.15" y="112.78" width="13.15" height="5.58" fill="#0037d7"/>
<rect x="524.00" y="112.78" width="13.15" height="5.58" fill="#007deb"/>
<rect x="549.70" y="112.78" width="13.15" height="5.58" fill="#0052de"/>
<rect x="562.55" y="112.78" width="13.15" height="5.58" fill="#0037d7"/>
<rect x="588.25" y="112.78" width="13.15" height="5.58" fill="#dcfc23"/>
<rect x="613.95" y="112.78" width="13.15" height="5.58" fill="#007deb"/>
<rect x="511.15" y="118.05" width="13.15" height="5.58" fill="#0019cd"/>
<rect x="524.00" y="118.05" width="13.15" height="5.58" fill="#0037d7"/>
<rect x="639.65" y="133.88" width="13.15" height="5.58" fill="#dcfc23"/>
<rect x="446.90" y="139.15" width="13.15" height="5.58" fill="#ff4600"/>
<rect x="511.15" y="139.15" width="13.15" height="5.58" fill="#ffbe00"/>
<rect x="613.95" y="139.15" width="13.15" height="5.58" fill="#87fa78"/>
<rect x="639.65" y="139.15" width="13.15" height="5.58" fill="#b4fc46"/>
<rect x="652.50" y="139.15" width="13.15" height="5.58" fill="#2df5e1"/>
<rect x="678.20" y="139.15" width="13.15" height="5.58" fill="#0098f0"/>
<rect x="549.70" y="144.43" width="13.15" height="5.58" fill="#0000a0"/>
<rect x="626.80" y="144.43" width="13.15" height="5.58" fill="#5af8af"/>
<rect x="639.65" y="144.43" width="13.15" height="5.58" fill="#dcfc23"/>
<rect x="665.35" y="144.43" width="13.15" height="5.58" fill="#007deb"/>
<rect x="678.20" y="144.43" width="13.15" height="5.58" fill="#fffa00"/>
<rect x="691.05" y="144.43" width="13.15" height="5.58" fill="#00d2fc"/>
<rect x="536.85" y="149.70" width="13.15" height="5.58" fill="#b4fc46"/>
<rect x="562.55" y="149.70" width="13.15" height="5.58" fill="#ff9600"/>
<rect x="575.40" y="149.70" width="13.15" height="5.58" fill="#dcfc23"/>
<rect x="601.10" y="149.70" width="13.15" height="5.58" fill="#87fa78"/>
<rect x="613.95" y="149.70" width="13.15" height="5.58" fill="#ff7000"/>
<rect x="626.80" y="149.70" width="13.15" height="5.58" fill="#dcfc23"/>
<rect x="639.65" y="149.70" width="13.15" height="5.58" fill="#ff9600"/>
<rect x="652.50" y="149.70" width="13.15" height="5.58" fill="#00ebff"/>
<rect x="665.35" y="149.70" width="13.15" height="5.58" fill="#ff5c5c"/>
<rect x="691.05" y="149.70" width="13.15" height="5.58" fill="#b4fc46"/>
<rect x="588.25" y="154.98" width="13.15" height="5.58" fill="#fffa00"/>
<rect x="601.10" y="154.98" width="13.15" height="5.58" fill="#ffdc00"/>
<rect x="613.95" y="154.98" width="13.15" height="5.58" fill="#ffbe00"/>
<rect x="626.80" y="154.98" width="13.15" height="5.58" fill="#ff9600"/>
<rect x="639.65" y="154.98" width="13.15" height="5.58" fill="#87fa78"/>
<rect x="652.50" y="154.98" width="13.15" height="5.58" fill="#5af8af"/>
<rect x="665.35" y="154.98" width="13.15" height="5.58" fill="#2df5e1"/>
<rect x="678.20" y="154.98" width="13.15" height="5.58" fill="#00b4f6"/>
<rect x="691.05" y="154.98" width="13.15" height="5.58" fill="#007deb"/>
<rect x="536.85" y="160.25" width="13.15" height="5.58" fill="#b4fc46"/>
<rect x="562.55" y="160.25" width="13.15" height="5.58" fill="#dcfc23"/>
<rect x="575.40" y="160.25" width="13.15" height="5.58" fill="#5af8af"/>
<rect x="601.10" y="160.25" width="13.15" height="5.58" fill="#b4fc46"/>
<rect x="626.80" y="160.25" width="13.15" height="5.58" fill="#ff7000"/>
<rect x="639.65" y="160.25" width="13.15" height="5.58" fill="#5af8af"/>
<rect x="575.40" y="165.53" width="13.15" height="5.58" fill="#dcfc23"/>
<rect x="588.25" y="165.53" width="13.15" height="5.58" fill="#b4fc46"/>
<rect x="613.95" y="165.53" width="13.15" height="5.58" fill="#b4fc46"/>
<rect x="639.65" y="165.53" width="13.15" height="5.58" fill="#00b4f6"/>
<rect x="459.75" y="170.80" width="13.15" height="5.58" fill="#ff9600"/>
<rect x="626.80" y="170.80" width="13.15" height="5.58" fill="#5af8af"/>
<rect x="639.65" y="170.80" width="13.15" height="5.58" fill="#0052de"/>
<rect x="511.15" y="176.08" width="13.15" height="5.58" fill="#ff1c16"/>
<rect x="626.80" y="176.08" width="13.15" height="5.58" fill="#5af8af"/>
<rect x="524.00" y="181.35" width="13.15" height="5.58" fill="#00ebff"/>
<rect x="549.70" y="181.35" width="13.15" height="5.58" fill="#0000a0"/>
<rect x="472.60" y="186.62" width="13.15" height="5.58" fill="#0066e6"/>
<rect x="524.00" y="186.62" width="13.15" height="5.58" fill="#0037d7"/>
<rect x="472.60" y="191.90" width="13.15" height="5.58" fill="#ffdc00"/>
<rect x="524.00" y="191.90" width="13.15" height="5.58" fill="#0052de"/>
<rect x="536.85" y="191.90" width="13.15" height="5.58" fill="#0066e6"/>
<rect x="549.70" y="191.90" width="13.15" height="5.58" fill="#0052de"/>
<rect x="691.05" y="191.90" width="13.15" height="5.58" fill="#00d2fc"/>
<rect x="446.90" y="197.18" width="13.15" height="5.58" fill="#dcfc23"/>
<rect x="472.60" y="197.18" width="13.15" height="5.58" fill="#00ebff"/>
<rect x="588.25" y="197.18" width="13.15" height="5.58" fill="#ffdc00"/>
<rect x="626.80" y="197.18" width="13.15" height="5.58" fill="#2df5e1"/>
<rect x="498.30" y="202.45" width="13.15" height="5.58" fill="#ffbe00"/>
<rect x="549.70" y="202.45" width="13.15" height="5.58" fill="#0037d7"/>
<rect x="562.55" y="202.45" width="13.15" height="5.58" fill="#0037d7"/>
<rect x="626.80" y="202.45" width="13.15" height="5.58" fill="#b4fc46"/>
<rect x="691.05" y="202.45" width="13.15" height="5.58" fill="#0019cd"/>
<rect x="421.20" y="207.73" width="13.15" height="5.58" fill="#87fa78"/>
<rect x="459.75" y="207.73" width="13.15" height="5.58" fill="#0052de"/>
<rect x="511.15" y="207.73" width="13.15" height="5.58" fill="#5af8af"/>
<rect x="575.40" y="207.73" width="13.15" height="5.58" fill="#0098f0"/>
<rect x="613.95" y="207.73" width="13.15" height="5.58" fill="#0052de"/>
<rect x="691.05" y="207.73" width="13.15" height="5.58" fill="#0019cd"/>
</g>
<circle cx="661" cy="55" r="4.8" fill="#000"/>
<rect x="709.50" y="2.00" width="20.50" height="211.00" fill="url(#cb)"/>
<line x1="709.50" y1="19.80" x2="711.70" y2="19.80" stroke="rgba(0,0,0,0.5)" stroke-width="1.00"/>
<line x1="727.80" y1="19.80" x2="730.00" y2="19.80" stroke="rgba(0,0,0,0.5)" stroke-width="1.00"/>
<line x1="709.50" y1="36.55" x2="711.70" y2="36.55" stroke="rgba(0,0,0,0.5)" stroke-width="1.00"/>
<line x1="727.80" y1="36.55" x2="730.00" y2="36.55" stroke="rgba(0,0,0,0.5)" stroke-width="1.00"/>
<line x1="709.50" y1="53.30" x2="711.70" y2="53.30" stroke="rgba(0,0,0,0.5)" stroke-width="1.00"/>
<line x1="727.80" y1="53.30" x2="730.00" y2="53.30" stroke="rgba(0,0,0,0.5)" stroke-width="1.00"/>
<line x1="709.50" y1="70.05" x2="711.70" y2="70.05" stroke="rgba(0,0,0,0.5)" stroke-width="1.00"/>
<line x1="727.80" y1="70.05" x2="730.00" y2="70.05" stroke="rgba(0,0,0,0.5)" stroke-width="1.00"/>
<line x1="709.50" y1="86.80" x2="711.70" y2="86.80" stroke="rgba(0,0,0,0.5)" stroke-width="1.00"/>
<line x1="727.80" y1="86.80" x2="730.00" y2="86.80" stroke="rgba(0,0,0,0.5)" stroke-width="1.00"/>
<line x1="709.50" y1="103.55" x2="711.70" y2="103.55" stroke="rgba(0,0,0,0.5)" stroke-width="1.00"/>
<line x1="727.80" y1="103.55" x2="730.00" y2="103.55" stroke="rgba(0,0,0,0.5)" stroke-width="1.00"/>
<line x1="709.50" y1="120.30" x2="711.70" y2="120.30" stroke="rgba(0,0,0,0.5)" stroke-width="1.00"/>
<line x1="727.80" y1="120.30" x2="730.00" y2="120.30" stroke="rgba(0,0,0,0.5)" stroke-width="1.00"/>
<line x1="709.50" y1="137.05" x2="711.70" y2="137.05" stroke="rgba(0,0,0,0.5)" stroke-width="1.00"/>
<line x1="727.80" y1="137.05" x2="730.00" y2="137.05" stroke="rgba(0,0,0,0.5)" stroke-width="1.00"/>
<line x1="709.50" y1="153.80" x2="711.70" y2="153.80" stroke="rgba(0,0,0,0.5)" stroke-width="1.00"/>
<line x1="727.80" y1="153.80" x2="730.00" y2="153.80" stroke="rgba(0,0,0,0.5)" stroke-width="1.00"/>
<line x1="709.50" y1="170.55" x2="711.70" y2="170.55" stroke="rgba(0,0,0,0.5)" stroke-width="1.00"/>
<line x1="727.80" y1="170.55" x2="730.00" y2="170.55" stroke="rgba(0,0,0,0.5)" stroke-width="1.00"/>
<line x1="709.50" y1="187.30" x2="711.70" y2="187.30" stroke="rgba(0,0,0,0.5)" stroke-width="1.00"/>
<line x1="727.80" y1="187.30" x2="730.00" y2="187.30" stroke="rgba(0,0,0,0.5)" stroke-width="1.00"/>
<line x1="709.50" y1="204.05" x2="711.70" y2="204.05" stroke="rgba(0,0,0,0.5)" stroke-width="1.00"/>
<line x1="727.80" y1="204.05" x2="730.00" y2="204.05" stroke="rgba(0,0,0,0.5)" stroke-width="1.00"/>
<line x1="415.00" y1="209.70" x2="420.50" y2="209.70" stroke="#000" stroke-width="1.00"/>
<line x1="704.00" y1="209.70" x2="709.50" y2="209.70" stroke="#000" stroke-width="1.00"/>
<line x1="415.00" y1="176.25" x2="417.80" y2="176.25" stroke="#000" stroke-width="1.00"/>
<line x1="706.70" y1="176.25" x2="709.50" y2="176.25" stroke="#000" stroke-width="1.00"/>
<line x1="415.00" y1="142.80" x2="420.50" y2="142.80" stroke="#000" stroke-width="1.00"/>
<line x1="704.00" y1="142.80" x2="709.50" y2="142.80" stroke="#000" stroke-width="1.00"/>
<line x1="415.00" y1="109.35" x2="417.80" y2="109.35" stroke="#000" stroke-width="1.00"/>
<line x1="706.70" y1="109.35" x2="709.50" y2="109.35" stroke="#000" stroke-width="1.00"/>
<line x1="415.00" y1="75.90" x2="420.50" y2="75.90" stroke="#000" stroke-width="1.00"/>
<line x1="704.00" y1="75.90" x2="709.50" y2="75.90" stroke="#000" stroke-width="1.00"/>
<line x1="415.00" y1="42.45" x2="417.80" y2="42.45" stroke="#000" stroke-width="1.00"/>
<line x1="706.70" y1="42.45" x2="709.50" y2="42.45" stroke="#000" stroke-width="1.00"/>
<line x1="415.00" y1="9.00" x2="420.50" y2="9.00" stroke="#000" stroke-width="1.00"/>
<line x1="704.00" y1="9.00" x2="709.50" y2="9.00" stroke="#000" stroke-width="1.00"/>
<line x1="421.38" y1="212.00" x2="421.38" y2="209.70" stroke="#000" stroke-width="1.00"/>
<line x1="421.38" y1="2.50" x2="421.38" y2="4.80" stroke="#000" stroke-width="1.00"/>
<line x1="453.38" y1="212.00" x2="453.38" y2="209.70" stroke="#000" stroke-width="1.00"/>
<line x1="453.38" y1="2.50" x2="453.38" y2="4.80" stroke="#000" stroke-width="1.00"/>
<line x1="478.20" y1="212.00" x2="478.20" y2="209.70" stroke="#000" stroke-width="1.00"/>
<line x1="478.20" y1="2.50" x2="478.20" y2="4.80" stroke="#000" stroke-width="1.00"/>
<line x1="498.48" y1="212.00" x2="498.48" y2="209.70" stroke="#000" stroke-width="1.00"/>
<line x1="498.48" y1="2.50" x2="498.48" y2="4.80" stroke="#000" stroke-width="1.00"/>
<line x1="515.63" y1="212.00" x2="515.63" y2="209.70" stroke="#000" stroke-width="1.00"/>
<line x1="515.63" y1="2.50" x2="515.63" y2="4.80" stroke="#000" stroke-width="1.00"/>
<line x1="530.48" y1="212.00" x2="530.48" y2="209.70" stroke="#000" stroke-width="1.00"/>
<line x1="530.48" y1="2.50" x2="530.48" y2="4.80" stroke="#000" stroke-width="1.00"/>
<line x1="543.58" y1="212.00" x2="543.58" y2="209.70" stroke="#000" stroke-width="1.00"/>
<line x1="543.58" y1="2.50" x2="543.58" y2="4.80" stroke="#000" stroke-width="1.00"/>
<line x1="555.30" y1="212.00" x2="555.30" y2="207.50" stroke="#000" stroke-width="1.00"/>
<line x1="555.30" y1="2.50" x2="555.30" y2="7.00" stroke="#000" stroke-width="1.00"/>
<line x1="632.40" y1="212.00" x2="632.40" y2="209.70" stroke="#000" stroke-width="1.00"/>
<line x1="632.40" y1="2.50" x2="632.40" y2="4.80" stroke="#000" stroke-width="1.00"/>
<line x1="677.50" y1="212.00" x2="677.50" y2="209.70" stroke="#000" stroke-width="1.00"/>
<line x1="677.50" y1="2.50" x2="677.50" y2="4.80" stroke="#000" stroke-width="1.00"/>
<path d="M414.1 1H730.5V213.6H414.1Z M415.2 2.9H729.5V212.3H415.2Z" fill="#000" fill-rule="evenodd"/>
<line x1="709.30" y1="2.00" x2="709.30" y2="212.00" stroke="#000" stroke-width="0.80"/>
<text x="478.50" y="228.50" font-size="11.00" text-anchor="middle">0.5</text>
<text x="555.60" y="228.50" font-size="11.00" text-anchor="middle">1</text>
<text x="633.50" y="228.50" font-size="11.00" text-anchor="middle">2</text>
<text x="562.60" y="253.50" font-size="11.00" text-anchor="middle">s (R<tspan dy="4" font-size="7.5">E</tspan><tspan dy="-4" font-size="11">)</tspan></text>
<text x="406.30" y="9.00" font-size="11.00" text-anchor="middle" transform="rotate(-90 406.30 9.00)">6</text>
<text x="406.30" y="76.00" font-size="11.00" text-anchor="middle" transform="rotate(-90 406.30 76.00)">4</text>
<text x="406.30" y="143.00" font-size="11.00" text-anchor="middle" transform="rotate(-90 406.30 143.00)">2</text>
<text x="406.30" y="209.70" font-size="11.00" text-anchor="middle" transform="rotate(-90 406.30 209.70)">0</text>
<text x="387.50" y="107.20" font-size="11.00" text-anchor="middle" transform="rotate(-90 387.50 107.20)" font-style="italic">θ</text>
<text x="741.80" y="20.00" font-size="8.50" text-anchor="middle" transform="rotate(-90 741.80 20.00)" style="letter-spacing:0">4.4×10<tspan dy="-4.8" font-size="6.5">4</tspan></text>
<text x="741.80" y="103.50" font-size="8.50" text-anchor="middle" transform="rotate(-90 741.80 103.50)" style="letter-spacing:0">4.3×10<tspan dy="-4.8" font-size="6.5">4</tspan></text>
<text x="741.80" y="186.70" font-size="8.50" text-anchor="middle" transform="rotate(-90 741.80 186.70)" style="letter-spacing:0">4.2×10<tspan dy="-4.8" font-size="6.5">4</tspan></text>
<text x="751.10" y="16.00" font-size="9.00" text-anchor="start" transform="rotate(-90 751.10 16.00)">χ</text>
<text x="746.40" y="5.60" font-size="6.90" text-anchor="start" transform="rotate(-90 746.40 5.60)">2</text>
<g clip-path="url(#c3)">
<g shape-rendering="crispEdges">
<rect x="36.20" y="282.30" width="27.30" height="5.57" fill="#0052de"/>
<rect x="63.20" y="282.30" width="27.30" height="5.57" fill="#007deb"/>
<rect x="90.20" y="282.30" width="27.30" height="5.57" fill="#0098f0"/>
<rect x="117.20" y="282.30" width="54.30" height="5.57" fill="#0066e6"/>
<rect x="171.20" y="282.30" width="27.30" height="5.57" fill="#007deb"/>
<rect x="198.20" y="282.30" width="27.30" height="5.57" fill="#0052de"/>
<rect x="225.20" y="282.30" width="54.30" height="5.57" fill="#0019cd"/>
<rect x="279.20" y="282.30" width="27.30" height="5.57" fill="#87fa78"/>
<rect x="306.20" y="282.30" width="27.30" height="5.57" fill="#ff9600"/>
<rect x="36.20" y="287.57" width="81.30" height="5.57" fill="#0052de"/>
<rect x="117.20" y="287.57" width="27.30" height="5.57" fill="#007deb"/>
<rect x="144.20" y="287.57" width="54.30" height="5.57" fill="#00d2fc"/>
<rect x="198.20" y="287.57" width="27.30" height="5.57" fill="#0052de"/>
<rect x="225.20" y="287.57" width="54.30" height="5.57" fill="#0019cd"/>
<rect x="279.20" y="287.57" width="27.30" height="5.57" fill="#000082"/>
<rect x="306.20" y="287.57" width="27.30" height="5.57" fill="#ff7000"/>
<rect x="36.20" y="292.84" width="108.30" height="5.57" fill="#0052de"/>
<rect x="144.20" y="292.84" width="54.30" height="5.57" fill="#007deb"/>
<rect x="198.20" y="292.84" width="27.30" height="5.57" fill="#0098f0"/>
<rect x="225.20" y="292.84" width="27.30" height="5.57" fill="#0052de"/>
<rect x="252.20" y="292.84" width="27.30" height="5.57" fill="#0000a0"/>
<rect x="279.20" y="292.84" width="27.30" height="5.57" fill="#87fa78"/>
<rect x="306.20" y="292.84" width="27.30" height="5.57" fill="#ff9600"/>
<rect x="36.20" y="298.10" width="135.30" height="5.57" fill="#0052de"/>
<rect x="171.20" y="298.10" width="54.30" height="5.57" fill="#007deb"/>
<rect x="225.20" y="298.10" width="27.30" height="5.57" fill="#ff7000"/>
<rect x="252.20" y="298.10" width="27.30" height="5.57" fill="#ffbe00"/>
<rect x="279.20" y="298.10" width="27.30" height="5.57" fill="#000082"/>
<rect x="306.20" y="298.10" width="27.30" height="5.57" fill="#b4fc46"/>
<rect x="36.20" y="303.37" width="162.30" height="5.57" fill="#0052de"/>
<rect x="198.20" y="303.37" width="27.30" height="5.57" fill="#0066e6"/>
<rect x="225.20" y="303.37" width="27.30" height="5.57" fill="#0037d7"/>
<rect x="252.20" y="303.37" width="27.30" height="5.57" fill="#fffa00"/>
<rect x="279.20" y="303.37" width="54.30" height="5.57" fill="#000082"/>
<rect x="36.20" y="308.64" width="189.30" height="5.57" fill="#0052de"/>
<rect x="225.20" y="308.64" width="27.30" height="5.57" fill="#ff1c16"/>
<rect x="252.20" y="308.64" width="27.30" height="5.57" fill="#fffa00"/>
<rect x="279.20" y="308.64" width="27.30" height="5.57" fill="#ff9600"/>
<rect x="306.20" y="308.64" width="27.30" height="5.57" fill="#000082"/>
<rect x="36.20" y="313.91" width="162.30" height="5.57" fill="#0052de"/>
<rect x="198.20" y="313.91" width="27.30" height="5.57" fill="#ff4600"/>
<rect x="225.20" y="313.91" width="27.30" height="5.57" fill="#ff1c16"/>
<rect x="252.20" y="313.91" width="27.30" height="5.57" fill="#dcfc23"/>
<rect x="279.20" y="313.91" width="27.30" height="5.57" fill="#0606c4"/>
<rect x="306.20" y="313.91" width="27.30" height="5.57" fill="#000082"/>
<rect x="36.20" y="319.17" width="135.30" height="5.57" fill="#0052de"/>
<rect x="171.20" y="319.17" width="27.30" height="5.57" fill="#0066e6"/>
<rect x="198.20" y="319.17" width="27.30" height="5.57" fill="#0052de"/>
<rect x="225.20" y="319.17" width="27.30" height="5.57" fill="#0606c4"/>
<rect x="252.20" y="319.17" width="27.30" height="5.57" fill="#dcfc23"/>
<rect x="279.20" y="319.17" width="54.30" height="5.57" fill="#b4fc46"/>
<rect x="36.20" y="324.44" width="162.30" height="5.57" fill="#0052de"/>
<rect x="198.20" y="324.44" width="27.30" height="5.57" fill="#dcfc23"/>
<rect x="225.20" y="324.44" width="27.30" height="5.57" fill="#0606c4"/>
<rect x="252.20" y="324.44" width="27.30" height="5.57" fill="#ffbe00"/>
<rect x="279.20" y="324.44" width="27.30" height="5.57" fill="#dcfc23"/>
<rect x="306.20" y="324.44" width="27.30" height="5.57" fill="#0000a0"/>
<rect x="36.20" y="329.71" width="162.30" height="5.57" fill="#0052de"/>
<rect x="198.20" y="329.71" width="27.30" height="5.57" fill="#dcfc23"/>
<rect x="225.20" y="329.71" width="27.30" height="5.57" fill="#ff4600"/>
<rect x="252.20" y="329.71" width="27.30" height="5.57" fill="#dcfc23"/>
<rect x="279.20" y="329.71" width="27.30" height="5.57" fill="#87fa78"/>
<rect x="306.20" y="329.71" width="27.30" height="5.57" fill="#dcfc23"/>
<rect x="36.20" y="334.98" width="108.30" height="5.57" fill="#0052de"/>
<rect x="144.20" y="334.98" width="27.30" height="5.57" fill="#ff3e3a"/>
<rect x="171.20" y="334.98" width="27.30" height="5.57" fill="#0052de"/>
<rect x="198.20" y="334.98" width="27.30" height="5.57" fill="#ff1c16"/>
<rect x="225.20" y="334.98" width="27.30" height="5.57" fill="#0019cd"/>
<rect x="252.20" y="334.98" width="27.30" height="5.57" fill="#0000a0"/>
<rect x="279.20" y="334.98" width="27.30" height="5.57" fill="#87fa78"/>
<rect x="306.20" y="334.98" width="27.30" height="5.57" fill="#dcfc23"/>
<rect x="36.20" y="340.24" width="54.30" height="5.57" fill="#0052de"/>
<rect x="90.20" y="340.24" width="27.30" height="5.57" fill="#ff1c16"/>
<rect x="117.20" y="340.24" width="54.30" height="5.57" fill="#0052de"/>
<rect x="171.20" y="340.24" width="27.30" height="5.57" fill="#00d2fc"/>
<rect x="198.20" y="340.24" width="27.30" height="5.57" fill="#0052de"/>
<rect x="225.20" y="340.24" width="27.30" height="5.57" fill="#00ebff"/>
<rect x="252.20" y="340.24" width="27.30" height="5.57" fill="#0000a0"/>
<rect x="279.20" y="340.24" width="27.30" height="5.57" fill="#dcfc23"/>
<rect x="306.20" y="340.24" width="27.30" height="5.57" fill="#000082"/>
<rect x="36.20" y="345.51" width="189.30" height="5.57" fill="#0052de"/>
<rect x="225.20" y="345.51" width="27.30" height="5.57" fill="#0037d7"/>
<rect x="252.20" y="345.51" width="27.30" height="5.57" fill="#dcfc23"/>
<rect x="279.20" y="345.51" width="27.30" height="5.57" fill="#0000a0"/>
<rect x="306.20" y="345.51" width="27.30" height="5.57" fill="#000082"/>
<rect x="36.20" y="350.78" width="189.30" height="5.57" fill="#0052de"/>
<rect x="225.20" y="350.78" width="27.30" height="5.57" fill="#0037d7"/>
<rect x="252.20" y="350.78" width="27.30" height="5.57" fill="#ff9600"/>
<rect x="279.20" y="350.78" width="27.30" height="5.57" fill="#b4fc46"/>
<rect x="306.20" y="350.78" width="27.30" height="5.57" fill="#5af8af"/>
<rect x="36.20" y="356.05" width="189.30" height="5.57" fill="#0052de"/>
<rect x="225.20" y="356.05" width="27.30" height="5.57" fill="#0037d7"/>
<rect x="252.20" y="356.05" width="27.30" height="5.57" fill="#dcfc23"/>
<rect x="279.20" y="356.05" width="54.30" height="5.57" fill="#000082"/>
<rect x="36.20" y="361.31" width="135.30" height="5.57" fill="#0052de"/>
<rect x="171.20" y="361.31" width="27.30" height="5.57" fill="#0066e6"/>
<rect x="198.20" y="361.31" width="27.30" height="5.57" fill="#0052de"/>
<rect x="225.20" y="361.31" width="27.30" height="5.57" fill="#0037d7"/>
<rect x="252.20" y="361.31" width="27.30" height="5.57" fill="#ff9600"/>
<rect x="279.20" y="361.31" width="54.30" height="5.57" fill="#000082"/>
<rect x="36.20" y="366.58" width="108.30" height="5.57" fill="#0052de"/>
<rect x="144.20" y="366.58" width="54.30" height="5.57" fill="#007deb"/>
<rect x="198.20" y="366.58" width="27.30" height="5.57" fill="#0052de"/>
<rect x="225.20" y="366.58" width="27.30" height="5.57" fill="#0037d7"/>
<rect x="252.20" y="366.58" width="27.30" height="5.57" fill="#0606c4"/>
<rect x="279.20" y="366.58" width="27.30" height="5.57" fill="#0000a0"/>
<rect x="306.20" y="366.58" width="27.30" height="5.57" fill="#ff7000"/>
<rect x="36.20" y="371.85" width="81.30" height="5.57" fill="#0052de"/>
<rect x="117.20" y="371.85" width="27.30" height="5.57" fill="#007deb"/>
<rect x="144.20" y="371.85" width="27.30" height="5.57" fill="#00b4f6"/>
<rect x="171.20" y="371.85" width="27.30" height="5.57" fill="#00d2fc"/>
<rect x="198.20" y="371.85" width="27.30" height="5.57" fill="#0066e6"/>
<rect x="225.20" y="371.85" width="27.30" height="5.57" fill="#0037d7"/>
<rect x="252.20" y="371.85" width="27.30" height="5.57" fill="#00b4f6"/>
<rect x="279.20" y="371.85" width="27.30" height="5.57" fill="#ff9600"/>
<rect x="306.20" y="371.85" width="27.30" height="5.57" fill="#0606c4"/>
<rect x="36.20" y="377.12" width="27.30" height="5.57" fill="#0052de"/>
<rect x="63.20" y="377.12" width="27.30" height="5.57" fill="#0098f0"/>
<rect x="90.20" y="377.12" width="54.30" height="5.57" fill="#0066e6"/>
<rect x="144.20" y="377.12" width="27.30" height="5.57" fill="#007deb"/>
<rect x="171.20" y="377.12" width="27.30" height="5.57" fill="#0098f0"/>
<rect x="198.20" y="377.12" width="27.30" height="5.57" fill="#007deb"/>
<rect x="225.20" y="377.12" width="27.30" height="5.57" fill="#0019cd"/>
<rect x="252.20" y="377.12" width="27.30" height="5.57" fill="#0000a0"/>
<rect x="279.20" y="377.12" width="27.30" height="5.57" fill="#0606c4"/>
<rect x="306.20" y="377.12" width="27.30" height="5.57" fill="#ff9600"/>
<rect x="36.20" y="382.38" width="81.30" height="5.57" fill="#0052de"/>
<rect x="117.20" y="382.38" width="27.30" height="5.57" fill="#00d2fc"/>
<rect x="144.20" y="382.38" width="27.30" height="5.57" fill="#0066e6"/>
<rect x="171.20" y="382.38" width="27.30" height="5.57" fill="#0098f0"/>
<rect x="198.20" y="382.38" width="27.30" height="5.57" fill="#0052de"/>
<rect x="225.20" y="382.38" width="27.30" height="5.57" fill="#00d2fc"/>
<rect x="252.20" y="382.38" width="27.30" height="5.57" fill="#0000a0"/>
<rect x="279.20" y="382.38" width="27.30" height="5.57" fill="#ff1c16"/>
<rect x="306.20" y="382.38" width="27.30" height="5.57" fill="#ff9600"/>
<rect x="36.20" y="387.65" width="189.30" height="5.57" fill="#0066e6"/>
<rect x="225.20" y="387.65" width="27.30" height="5.57" fill="#0098f0"/>
<rect x="252.20" y="387.65" width="27.30" height="5.57" fill="#0066e6"/>
<rect x="279.20" y="387.65" width="27.30" height="5.57" fill="#ff1c16"/>
<rect x="306.20" y="387.65" width="27.30" height="5.57" fill="#ff9600"/>
<rect x="36.20" y="392.92" width="108.30" height="5.57" fill="#0052de"/>
<rect x="144.20" y="392.92" width="27.30" height="5.57" fill="#00b4f6"/>
<rect x="171.20" y="392.92" width="27.30" height="5.57" fill="#00ebff"/>
<rect x="198.20" y="392.92" width="27.30" height="5.57" fill="#0052de"/>
<rect x="225.20" y="392.92" width="27.30" height="5.57" fill="#0037d7"/>
<rect x="252.20" y="392.92" width="27.30" height="5.57" fill="#fffa00"/>
<rect x="279.20" y="392.92" width="27.30" height="5.57" fill="#00b4f6"/>
<rect x="306.20" y="392.92" width="27.30" height="5.57" fill="#0000a0"/>
<rect x="36.20" y="398.19" width="108.30" height="5.57" fill="#0052de"/>
<rect x="144.20" y="398.19" width="54.30" height="5.57" fill="#007deb"/>
<rect x="198.20" y="398.19" width="27.30" height="5.57" fill="#0098f0"/>
<rect x="225.20" y="398.19" width="27.30" height="5.57" fill="#0037d7"/>
<rect x="252.20" y="398.19" width="81.30" height="5.57" fill="#0000a0"/>
<rect x="36.20" y="403.45" width="189.30" height="5.57" fill="#0052de"/>
<rect x="225.20" y="403.45" width="27.30" height="5.57" fill="#0037d7"/>
<rect x="252.20" y="403.45" width="27.30" height="5.57" fill="#0606c4"/>
<rect x="279.20" y="403.45" width="27.30" height="5.57" fill="#0000a0"/>
<rect x="306.20" y="403.45" width="27.30" height="5.57" fill="#0606c4"/>
<rect x="36.20" y="408.72" width="189.30" height="5.57" fill="#0052de"/>
<rect x="225.20" y="408.72" width="27.30" height="5.57" fill="#0037d7"/>
<rect x="252.20" y="408.72" width="27.30" height="5.57" fill="#0606c4"/>
<rect x="279.20" y="408.72" width="54.30" height="5.57" fill="#0000a0"/>
<rect x="36.20" y="413.99" width="189.30" height="5.57" fill="#0052de"/>
<rect x="225.20" y="413.99" width="27.30" height="5.57" fill="#0019cd"/>
<rect x="252.20" y="413.99" width="27.30" height="5.57" fill="#0606c4"/>
<rect x="279.20" y="413.99" width="27.30" height="5.57" fill="#0000a0"/>
<rect x="306.20" y="413.99" width="27.30" height="5.57" fill="#dcfc23"/>
<rect x="36.20" y="419.25" width="135.30" height="5.57" fill="#0052de"/>
<rect x="171.20" y="419.25" width="27.30" height="5.57" fill="#b4fc46"/>
<rect x="198.20" y="419.25" width="27.30" height="5.57" fill="#ff4600"/>
<rect x="225.20" y="419.25" width="27.30" height="5.57" fill="#0019cd"/>
<rect x="252.20" y="419.25" width="27.30" height="5.57" fill="#0606c4"/>
<rect x="279.20" y="419.25" width="27.30" height="5.57" fill="#b4fc46"/>
<rect x="306.20" y="419.25" width="27.30" height="5.57" fill="#0000a0"/>
<rect x="36.20" y="424.52" width="54.30" height="5.57" fill="#0052de"/>
<rect x="90.20" y="424.52" width="27.30" height="5.57" fill="#ffdc00"/>
<rect x="117.20" y="424.52" width="54.30" height="5.57" fill="#0052de"/>
<rect x="171.20" y="424.52" width="27.30" height="5.57" fill="#fffa00"/>
<rect x="198.20" y="424.52" width="27.30" height="5.57" fill="#00ebff"/>
<rect x="225.20" y="424.52" width="27.30" height="5.57" fill="#0019cd"/>
<rect x="252.20" y="424.52" width="27.30" height="5.57" fill="#87fa78"/>
<rect x="279.20" y="424.52" width="27.30" height="5.57" fill="#0000a0"/>
<rect x="306.20" y="424.52" width="27.30" height="5.57" fill="#b4fc46"/>
<rect x="36.20" y="429.79" width="27.30" height="5.57" fill="#0052de"/>
<rect x="63.20" y="429.79" width="27.30" height="5.57" fill="#ff5c5c"/>
<rect x="90.20" y="429.79" width="27.30" height="5.57" fill="#0052de"/>
<rect x="117.20" y="429.79" width="27.30" height="5.57" fill="#dcfc23"/>
<rect x="144.20" y="429.79" width="27.30" height="5.57" fill="#ff7000"/>
<rect x="171.20" y="429.79" width="27.30" height="5.57" fill="#5af8af"/>
<rect x="198.20" y="429.79" width="27.30" height="5.57" fill="#ff7000"/>
<rect x="225.20" y="429.79" width="27.30" height="5.57" fill="#ff9600"/>
<rect x="252.20" y="429.79" width="27.30" height="5.57" fill="#b4fc46"/>
<rect x="279.20" y="429.79" width="27.30" height="5.57" fill="#fffa00"/>
<rect x="306.20" y="429.79" width="27.30" height="5.57" fill="#dcfc23"/>
<rect x="36.20" y="435.06" width="135.30" height="5.57" fill="#0052de"/>
<rect x="171.20" y="435.06" width="27.30" height="5.57" fill="#ff9600"/>
<rect x="198.20" y="435.06" width="27.30" height="5.57" fill="#ffbe00"/>
<rect x="225.20" y="435.06" width="27.30" height="5.57" fill="#ffdc00"/>
<rect x="252.20" y="435.06" width="27.30" height="5.57" fill="#b4fc46"/>
<rect x="279.20" y="435.06" width="27.30" height="5.57" fill="#fffa00"/>
<rect x="306.20" y="435.06" width="27.30" height="5.57" fill="#b4fc46"/>
<rect x="36.20" y="440.33" width="108.30" height="5.57" fill="#0052de"/>
<rect x="144.20" y="440.33" width="27.30" height="5.57" fill="#ff4600"/>
<rect x="171.20" y="440.33" width="27.30" height="5.57" fill="#0052de"/>
<rect x="198.20" y="440.33" width="27.30" height="5.57" fill="#dcfc23"/>
<rect x="225.20" y="440.33" width="54.30" height="5.57" fill="#fffa00"/>
<rect x="279.20" y="440.33" width="27.30" height="5.57" fill="#dcfc23"/>
<rect x="306.20" y="440.33" width="27.30" height="5.57" fill="#b4fc46"/>
<rect x="36.20" y="445.59" width="189.30" height="5.57" fill="#0052de"/>
<rect x="225.20" y="445.59" width="27.30" height="5.57" fill="#dcfc23"/>
<rect x="252.20" y="445.59" width="27.30" height="5.57" fill="#fffa00"/>
<rect x="279.20" y="445.59" width="27.30" height="5.57" fill="#0000a0"/>
<rect x="306.20" y="445.59" width="27.30" height="5.57" fill="#dcfc23"/>
<rect x="36.20" y="450.86" width="189.30" height="5.57" fill="#0052de"/>
<rect x="225.20" y="450.86" width="27.30" height="5.57" fill="#ff7000"/>
<rect x="252.20" y="450.86" width="27.30" height="5.57" fill="#0098f0"/>
<rect x="279.20" y="450.86" width="27.30" height="5.57" fill="#b4fc46"/>
<rect x="306.20" y="450.86" width="27.30" height="5.57" fill="#0000a0"/>
<rect x="36.20" y="456.13" width="189.30" height="5.57" fill="#0052de"/>
<rect x="225.20" y="456.13" width="27.30" height="5.57" fill="#ff1c16"/>
<rect x="252.20" y="456.13" width="27.30" height="5.57" fill="#0606c4"/>
<rect x="279.20" y="456.13" width="27.30" height="5.57" fill="#b4fc46"/>
<rect x="306.20" y="456.13" width="27.30" height="5.57" fill="#0000a0"/>
<rect x="36.20" y="461.39" width="189.30" height="5.57" fill="#0052de"/>
<rect x="225.20" y="461.39" width="27.30" height="5.57" fill="#0037d7"/>
<rect x="252.20" y="461.39" width="27.30" height="5.57" fill="#0606c4"/>
<rect x="279.20" y="461.39" width="27.30" height="5.57" fill="#0000a0"/>
<rect x="306.20" y="461.39" width="27.30" height="5.57" fill="#5af8af"/>
<rect x="36.20" y="466.66" width="162.30" height="5.57" fill="#0052de"/>
<rect x="198.20" y="466.66" width="27.30" height="5.57" fill="#0098f0"/>
<rect x="225.20" y="466.66" width="27.30" height="5.57" fill="#0052de"/>
<rect x="252.20" y="466.66" width="27.30" height="5.57" fill="#0606c4"/>
<rect x="279.20" y="466.66" width="27.30" height="5.57" fill="#00d2fc"/>
<rect x="306.20" y="466.66" width="27.30" height="5.57" fill="#0000a0"/>
<rect x="36.20" y="471.93" width="108.30" height="5.57" fill="#0052de"/>
<rect x="144.20" y="471.93" width="27.30" height="5.57" fill="#0098f0"/>
<rect x="171.20" y="471.93" width="27.30" height="5.57" fill="#00d2fc"/>
<rect x="198.20" y="471.93" width="27.30" height="5.57" fill="#007deb"/>
<rect x="225.20" y="471.93" width="27.30" height="5.57" fill="#0052de"/>
<rect x="252.20" y="471.93" width="27.30" height="5.57" fill="#0606c4"/>
<rect x="279.20" y="471.93" width="27.30" height="5.57" fill="#0000a0"/>
<rect x="306.20" y="471.93" width="27.30" height="5.57" fill="#ffbe00"/>
<rect x="36.20" y="477.20" width="81.30" height="5.57" fill="#0052de"/>
<rect x="117.20" y="477.20" width="54.30" height="5.57" fill="#0066e6"/>
<rect x="171.20" y="477.20" width="54.30" height="5.57" fill="#0052de"/>
<rect x="225.20" y="477.20" width="27.30" height="5.57" fill="#0066e6"/>
<rect x="252.20" y="477.20" width="27.30" height="5.57" fill="#0000a0"/>
<rect x="279.20" y="477.20" width="27.30" height="5.57" fill="#5af8af"/>
<rect x="306.20" y="477.20" width="27.30" height="5.57" fill="#ffbe00"/>
<rect x="36.20" y="482.47" width="27.30" height="5.57" fill="#0052de"/>
<rect x="63.20" y="482.47" width="54.30" height="5.57" fill="#0098f0"/>
<rect x="117.20" y="482.47" width="27.30" height="5.57" fill="#0066e6"/>
<rect x="144.20" y="482.47" width="27.30" height="5.57" fill="#007deb"/>
<rect x="171.20" y="482.47" width="27.30" height="5.57" fill="#0066e6"/>
<rect x="198.20" y="482.47" width="27.30" height="5.57" fill="#0052de"/>
<rect x="225.20" y="482.47" width="27.30" height="5.57" fill="#0066e6"/>
<rect x="252.20" y="482.47" width="27.30" height="5.57" fill="#dcfc23"/>
<rect x="279.20" y="482.47" width="27.30" height="5.57" fill="#0000a0"/>
<rect x="306.20" y="482.47" width="27.30" height="5.57" fill="#ffbe00"/>
<rect x="36.20" y="487.73" width="27.30" height="5.57" fill="#0052de"/>
<rect x="63.20" y="487.73" width="81.30" height="5.57" fill="#007deb"/>
<rect x="144.20" y="487.73" width="27.30" height="5.57" fill="#00ebff"/>
<rect x="171.20" y="487.73" width="27.30" height="5.57" fill="#0052de"/>
<rect x="198.20" y="487.73" width="27.30" height="5.57" fill="#0098f0"/>
<rect x="225.20" y="487.73" width="27.30" height="5.57" fill="#007deb"/>
<rect x="252.20" y="487.73" width="27.30" height="5.57" fill="#000082"/>
<rect x="279.20" y="487.73" width="27.30" height="5.57" fill="#0037d7"/>
<rect x="306.20" y="487.73" width="27.30" height="5.57" fill="#b4fc46"/>
</g>
</g>
<rect x="332.00" y="282.30" width="20.50" height="210.70" fill="url(#cb)"/>
<line x1="332.00" y1="300.10" x2="334.20" y2="300.10" stroke="rgba(0,0,0,0.5)" stroke-width="1.00"/>
<line x1="350.30" y1="300.10" x2="352.50" y2="300.10" stroke="rgba(0,0,0,0.5)" stroke-width="1.00"/>
<line x1="332.00" y1="315.50" x2="334.20" y2="315.50" stroke="rgba(0,0,0,0.5)" stroke-width="1.00"/>
<line x1="350.30" y1="315.50" x2="352.50" y2="315.50" stroke="rgba(0,0,0,0.5)" stroke-width="1.00"/>
<line x1="332.00" y1="330.90" x2="334.20" y2="330.90" stroke="rgba(0,0,0,0.5)" stroke-width="1.00"/>
<line x1="350.30" y1="330.90" x2="352.50" y2="330.90" stroke="rgba(0,0,0,0.5)" stroke-width="1.00"/>
<line x1="332.00" y1="346.30" x2="334.20" y2="346.30" stroke="rgba(0,0,0,0.5)" stroke-width="1.00"/>
<line x1="350.30" y1="346.30" x2="352.50" y2="346.30" stroke="rgba(0,0,0,0.5)" stroke-width="1.00"/>
<line x1="332.00" y1="361.70" x2="334.20" y2="361.70" stroke="rgba(0,0,0,0.5)" stroke-width="1.00"/>
<line x1="350.30" y1="361.70" x2="352.50" y2="361.70" stroke="rgba(0,0,0,0.5)" stroke-width="1.00"/>
<line x1="332.00" y1="377.10" x2="334.20" y2="377.10" stroke="rgba(0,0,0,0.5)" stroke-width="1.00"/>
<line x1="350.30" y1="377.10" x2="352.50" y2="377.10" stroke="rgba(0,0,0,0.5)" stroke-width="1.00"/>
<line x1="332.00" y1="392.50" x2="334.20" y2="392.50" stroke="rgba(0,0,0,0.5)" stroke-width="1.00"/>
<line x1="350.30" y1="392.50" x2="352.50" y2="392.50" stroke="rgba(0,0,0,0.5)" stroke-width="1.00"/>
<line x1="332.00" y1="407.90" x2="334.20" y2="407.90" stroke="rgba(0,0,0,0.5)" stroke-width="1.00"/>
<line x1="350.30" y1="407.90" x2="352.50" y2="407.90" stroke="rgba(0,0,0,0.5)" stroke-width="1.00"/>
<line x1="332.00" y1="423.30" x2="334.20" y2="423.30" stroke="rgba(0,0,0,0.5)" stroke-width="1.00"/>
<line x1="350.30" y1="423.30" x2="352.50" y2="423.30" stroke="rgba(0,0,0,0.5)" stroke-width="1.00"/>
<line x1="332.00" y1="438.70" x2="334.20" y2="438.70" stroke="rgba(0,0,0,0.5)" stroke-width="1.00"/>
<line x1="350.30" y1="438.70" x2="352.50" y2="438.70" stroke="rgba(0,0,0,0.5)" stroke-width="1.00"/>
<line x1="332.00" y1="454.10" x2="334.20" y2="454.10" stroke="rgba(0,0,0,0.5)" stroke-width="1.00"/>
<line x1="350.30" y1="454.10" x2="352.50" y2="454.10" stroke="rgba(0,0,0,0.5)" stroke-width="1.00"/>
<line x1="332.00" y1="469.50" x2="334.20" y2="469.50" stroke="rgba(0,0,0,0.5)" stroke-width="1.00"/>
<line x1="350.30" y1="469.50" x2="352.50" y2="469.50" stroke="rgba(0,0,0,0.5)" stroke-width="1.00"/>
<line x1="332.00" y1="484.90" x2="334.20" y2="484.90" stroke="rgba(0,0,0,0.5)" stroke-width="1.00"/>
<line x1="350.30" y1="484.90" x2="352.50" y2="484.90" stroke="rgba(0,0,0,0.5)" stroke-width="1.00"/>
<line x1="40.29" y1="492.50" x2="40.29" y2="490.00" stroke="#001a70" stroke-width="1.00"/>
<line x1="40.29" y1="282.80" x2="40.29" y2="285.30" stroke="#001a70" stroke-width="1.00"/>
<line x1="44.19" y1="492.50" x2="44.19" y2="490.00" stroke="#001a70" stroke-width="1.00"/>
<line x1="44.19" y1="282.80" x2="44.19" y2="285.30" stroke="#001a70" stroke-width="1.00"/>
<line x1="47.63" y1="492.50" x2="47.63" y2="490.00" stroke="#001a70" stroke-width="1.00"/>
<line x1="47.63" y1="282.80" x2="47.63" y2="285.30" stroke="#001a70" stroke-width="1.00"/>
<line x1="50.70" y1="492.50" x2="50.70" y2="487.00" stroke="#001a70" stroke-width="1.00"/>
<line x1="50.70" y1="282.80" x2="50.70" y2="288.30" stroke="#001a70" stroke-width="1.00"/>
<line x1="70.93" y1="492.50" x2="70.93" y2="490.00" stroke="#001a70" stroke-width="1.00"/>
<line x1="70.93" y1="282.80" x2="70.93" y2="285.30" stroke="#001a70" stroke-width="1.00"/>
<line x1="82.76" y1="492.50" x2="82.76" y2="490.00" stroke="#001a70" stroke-width="1.00"/>
<line x1="82.76" y1="282.80" x2="82.76" y2="285.30" stroke="#001a70" stroke-width="1.00"/>
<line x1="91.16" y1="492.50" x2="91.16" y2="490.00" stroke="#001a70" stroke-width="1.00"/>
<line x1="91.16" y1="282.80" x2="91.16" y2="285.30" stroke="#001a70" stroke-width="1.00"/>
<line x1="97.67" y1="492.50" x2="97.67" y2="490.00" stroke="#001a70" stroke-width="1.00"/>
<line x1="97.67" y1="282.80" x2="97.67" y2="285.30" stroke="#001a70" stroke-width="1.00"/>
<line x1="102.99" y1="492.50" x2="102.99" y2="490.00" stroke="#001a70" stroke-width="1.00"/>
<line x1="102.99" y1="282.80" x2="102.99" y2="285.30" stroke="#001a70" stroke-width="1.00"/>
<line x1="107.49" y1="492.50" x2="107.49" y2="490.00" stroke="#001a70" stroke-width="1.00"/>
<line x1="107.49" y1="282.80" x2="107.49" y2="285.30" stroke="#001a70" stroke-width="1.00"/>
<line x1="111.39" y1="492.50" x2="111.39" y2="490.00" stroke="#001a70" stroke-width="1.00"/>
<line x1="111.39" y1="282.80" x2="111.39" y2="285.30" stroke="#001a70" stroke-width="1.00"/>
<line x1="114.83" y1="492.50" x2="114.83" y2="490.00" stroke="#001a70" stroke-width="1.00"/>
<line x1="114.83" y1="282.80" x2="114.83" y2="285.30" stroke="#001a70" stroke-width="1.00"/>
<line x1="117.90" y1="492.50" x2="117.90" y2="487.00" stroke="#001a70" stroke-width="1.00"/>
<line x1="117.90" y1="282.80" x2="117.90" y2="288.30" stroke="#001a70" stroke-width="1.00"/>
<line x1="138.13" y1="492.50" x2="138.13" y2="490.00" stroke="#001a70" stroke-width="1.00"/>
<line x1="138.13" y1="282.80" x2="138.13" y2="285.30" stroke="#001a70" stroke-width="1.00"/>
<line x1="149.96" y1="492.50" x2="149.96" y2="490.00" stroke="#001a70" stroke-width="1.00"/>
<line x1="149.96" y1="282.80" x2="149.96" y2="285.30" stroke="#001a70" stroke-width="1.00"/>
<line x1="158.36" y1="492.50" x2="158.36" y2="490.00" stroke="#001a70" stroke-width="1.00"/>
<line x1="158.36" y1="282.80" x2="158.36" y2="285.30" stroke="#001a70" stroke-width="1.00"/>
<line x1="164.87" y1="492.50" x2="164.87" y2="490.00" stroke="#001a70" stroke-width="1.00"/>
<line x1="164.87" y1="282.80" x2="164.87" y2="285.30" stroke="#001a70" stroke-width="1.00"/>
<line x1="170.19" y1="492.50" x2="170.19" y2="490.00" stroke="#001a70" stroke-width="1.00"/>
<line x1="170.19" y1="282.80" x2="170.19" y2="285.30" stroke="#001a70" stroke-width="1.00"/>
<line x1="174.69" y1="492.50" x2="174.69" y2="490.00" stroke="#001a70" stroke-width="1.00"/>
<line x1="174.69" y1="282.80" x2="174.69" y2="285.30" stroke="#001a70" stroke-width="1.00"/>
<line x1="178.59" y1="492.50" x2="178.59" y2="490.00" stroke="#001a70" stroke-width="1.00"/>
<line x1="178.59" y1="282.80" x2="178.59" y2="285.30" stroke="#001a70" stroke-width="1.00"/>
<line x1="182.03" y1="492.50" x2="182.03" y2="490.00" stroke="#001a70" stroke-width="1.00"/>
<line x1="182.03" y1="282.80" x2="182.03" y2="285.30" stroke="#001a70" stroke-width="1.00"/>
<line x1="185.10" y1="492.50" x2="185.10" y2="487.00" stroke="#001a70" stroke-width="1.00"/>
<line x1="185.10" y1="282.80" x2="185.10" y2="288.30" stroke="#001a70" stroke-width="1.00"/>
<line x1="205.33" y1="492.50" x2="205.33" y2="490.00" stroke="#001a70" stroke-width="1.00"/>
<line x1="205.33" y1="282.80" x2="205.33" y2="285.30" stroke="#001a70" stroke-width="1.00"/>
<line x1="217.16" y1="492.50" x2="217.16" y2="490.00" stroke="#001a70" stroke-width="1.00"/>
<line x1="217.16" y1="282.80" x2="217.16" y2="285.30" stroke="#001a70" stroke-width="1.00"/>
<line x1="225.56" y1="492.50" x2="225.56" y2="490.00" stroke="#001a70" stroke-width="1.00"/>
<line x1="225.56" y1="282.80" x2="225.56" y2="285.30" stroke="#001a70" stroke-width="1.00"/>
<line x1="232.07" y1="492.50" x2="232.07" y2="490.00" stroke="#001a70" stroke-width="1.00"/>
<line x1="232.07" y1="282.80" x2="232.07" y2="285.30" stroke="#001a70" stroke-width="1.00"/>
<line x1="237.39" y1="492.50" x2="237.39" y2="490.00" stroke="#001a70" stroke-width="1.00"/>
<line x1="237.39" y1="282.80" x2="237.39" y2="285.30" stroke="#001a70" stroke-width="1.00"/>
<line x1="241.89" y1="492.50" x2="241.89" y2="490.00" stroke="#001a70" stroke-width="1.00"/>
<line x1="241.89" y1="282.80" x2="241.89" y2="285.30" stroke="#001a70" stroke-width="1.00"/>
<line x1="245.79" y1="492.50" x2="245.79" y2="490.00" stroke="#001a70" stroke-width="1.00"/>
<line x1="245.79" y1="282.80" x2="245.79" y2="285.30" stroke="#001a70" stroke-width="1.00"/>
<line x1="249.23" y1="492.50" x2="249.23" y2="490.00" stroke="#001a70" stroke-width="1.00"/>
<line x1="249.23" y1="282.80" x2="249.23" y2="285.30" stroke="#001a70" stroke-width="1.00"/>
<line x1="252.30" y1="492.50" x2="252.30" y2="487.00" stroke="#001a70" stroke-width="1.00"/>
<line x1="252.30" y1="282.80" x2="252.30" y2="288.30" stroke="#001a70" stroke-width="1.00"/>
<line x1="272.53" y1="492.50" x2="272.53" y2="490.00" stroke="#001a70" stroke-width="1.00"/>
<line x1="272.53" y1="282.80" x2="272.53" y2="285.30" stroke="#001a70" stroke-width="1.00"/>
<line x1="284.36" y1="492.50" x2="284.36" y2="490.00" stroke="#001a70" stroke-width="1.00"/>
<line x1="284.36" y1="282.80" x2="284.36" y2="285.30" stroke="#001a70" stroke-width="1.00"/>
<line x1="292.76" y1="492.50" x2="292.76" y2="490.00" stroke="#001a70" stroke-width="1.00"/>
<line x1="292.76" y1="282.80" x2="292.76" y2="285.30" stroke="#001a70" stroke-width="1.00"/>
<line x1="299.27" y1="492.50" x2="299.27" y2="490.00" stroke="#001a70" stroke-width="1.00"/>
<line x1="299.27" y1="282.80" x2="299.27" y2="285.30" stroke="#001a70" stroke-width="1.00"/>
<line x1="304.59" y1="492.50" x2="304.59" y2="490.00" stroke="#001a70" stroke-width="1.00"/>
<line x1="304.59" y1="282.80" x2="304.59" y2="285.30" stroke="#001a70" stroke-width="1.00"/>
<line x1="309.09" y1="492.50" x2="309.09" y2="490.00" stroke="#001a70" stroke-width="1.00"/>
<line x1="309.09" y1="282.80" x2="309.09" y2="285.30" stroke="#001a70" stroke-width="1.00"/>
<line x1="312.99" y1="492.50" x2="312.99" y2="490.00" stroke="#001a70" stroke-width="1.00"/>
<line x1="312.99" y1="282.80" x2="312.99" y2="285.30" stroke="#001a70" stroke-width="1.00"/>
<line x1="316.43" y1="492.50" x2="316.43" y2="490.00" stroke="#001a70" stroke-width="1.00"/>
<line x1="316.43" y1="282.80" x2="316.43" y2="285.30" stroke="#001a70" stroke-width="1.00"/>
<line x1="319.50" y1="492.50" x2="319.50" y2="487.00" stroke="#001a70" stroke-width="1.00"/>
<line x1="319.50" y1="282.80" x2="319.50" y2="288.30" stroke="#001a70" stroke-width="1.00"/>
<line x1="36.50" y1="490.20" x2="42.00" y2="490.20" stroke="#001a70" stroke-width="1.00"/>
<line x1="326.00" y1="490.20" x2="331.50" y2="490.20" stroke="#001a70" stroke-width="1.00"/>
<line x1="36.50" y1="456.75" x2="39.30" y2="456.75" stroke="#001a70" stroke-width="1.00"/>
<line x1="328.70" y1="456.75" x2="331.50" y2="456.75" stroke="#001a70" stroke-width="1.00"/>
<line x1="36.50" y1="423.30" x2="42.00" y2="423.30" stroke="#001a70" stroke-width="1.00"/>
<line x1="326.00" y1="423.30" x2="331.50" y2="423.30" stroke="#001a70" stroke-width="1.00"/>
<line x1="36.50" y1="389.85" x2="39.30" y2="389.85" stroke="#001a70" stroke-width="1.00"/>
<line x1="328.70" y1="389.85" x2="331.50" y2="389.85" stroke="#001a70" stroke-width="1.00"/>
<line x1="36.50" y1="356.40" x2="42.00" y2="356.40" stroke="#001a70" stroke-width="1.00"/>
<line x1="326.00" y1="356.40" x2="331.50" y2="356.40" stroke="#001a70" stroke-width="1.00"/>
<line x1="36.50" y1="322.95" x2="39.30" y2="322.95" stroke="#001a70" stroke-width="1.00"/>
<line x1="328.70" y1="322.95" x2="331.50" y2="322.95" stroke="#001a70" stroke-width="1.00"/>
<line x1="36.50" y1="289.50" x2="42.00" y2="289.50" stroke="#001a70" stroke-width="1.00"/>
<line x1="326.00" y1="289.50" x2="331.50" y2="289.50" stroke="#001a70" stroke-width="1.00"/>
<rect x="36" y="282.3" width="316.5" height="210.7" fill="none" stroke="#000" stroke-width="1"/>
<line x1="331.70" y1="282.30" x2="331.70" y2="493.00" stroke="#000" stroke-width="1.00"/>
<text x="50.70" y="510.00" font-size="11.00" text-anchor="middle">10<tspan dy="-5.6" font-size="6.8">−4</tspan></text>
<text x="119.00" y="510.00" font-size="11.00" text-anchor="middle">10<tspan dy="-5.6" font-size="6.8">−3</tspan></text>
<text x="184.60" y="510.00" font-size="11.00" text-anchor="middle">0.01</text>
<text x="251.30" y="510.00" font-size="11.00" text-anchor="middle">0.1</text>
<text x="318.50" y="510.00" font-size="11.00" text-anchor="middle">1</text>
<text x="185.00" y="534.00" font-size="11.00" text-anchor="middle">q</text>
<text x="29.00" y="289.50" font-size="11.00" text-anchor="middle" transform="rotate(-90 29.00 289.50)">6</text>
<text x="29.00" y="356.50" font-size="11.00" text-anchor="middle" transform="rotate(-90 29.00 356.50)">4</text>
<text x="29.00" y="423.50" font-size="11.00" text-anchor="middle" transform="rotate(-90 29.00 423.50)">2</text>
<text x="29.00" y="490.20" font-size="11.00" text-anchor="middle" transform="rotate(-90 29.00 490.20)">0</text>
<text x="9.50" y="388.00" font-size="11.00" text-anchor="middle" transform="rotate(-90 9.50 388.00)" font-style="italic">θ</text>
<text x="364.00" y="314.50" font-size="8.50" text-anchor="middle" transform="rotate(-90 364.00 314.50)" style="letter-spacing:0">4.4×10<tspan dy="-4.8" font-size="6.5">4</tspan></text>
<text x="364.00" y="409.00" font-size="8.50" text-anchor="middle" transform="rotate(-90 364.00 409.00)" style="letter-spacing:0">4.3×10<tspan dy="-4.8" font-size="6.5">4</tspan></text>
<text x="364.00" y="469.00" font-size="8.50" text-anchor="middle" transform="rotate(-90 364.00 469.00)" style="letter-spacing:0">4.2×10<tspan dy="-4.8" font-size="6.5">4</tspan></text>
<text x="373.10" y="296.80" font-size="9.00" text-anchor="start" transform="rotate(-90 373.10 296.80)">χ</text>
<text x="368.40" y="286.40" font-size="6.90" text-anchor="start" transform="rotate(-90 368.40 286.40)">2</text>
</svg></body></html>
